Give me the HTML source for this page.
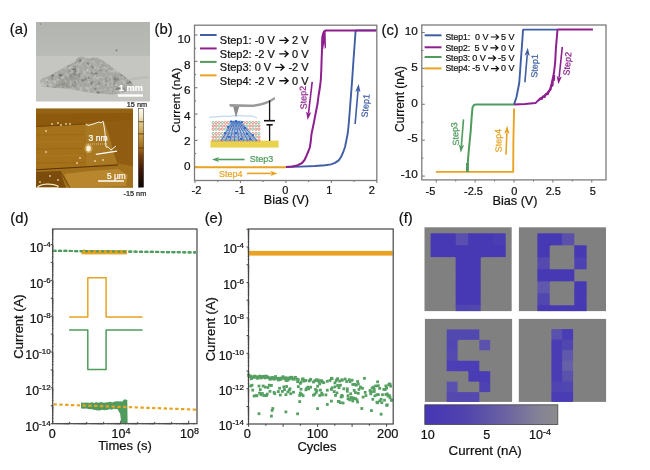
<!DOCTYPE html>
<html><head><meta charset="utf-8"><style>
html,body{margin:0;padding:0;background:#fff;}
svg{display:block;filter:blur(0.3px);}
text{font-family:"Liberation Sans", sans-serif;}
</style></head><body>
<svg width="650" height="470" viewBox="0 0 650 470">
<rect width="650" height="470" fill="#fff"/>
<text x="9.80" y="34.20" font-size="14.8" text-anchor="start" fill="#111" stroke="#111" stroke-width="0.22">(a)</text>
<text x="154.60" y="34.40" font-size="14.8" text-anchor="start" fill="#111" stroke="#111" stroke-width="0.22">(b)</text>
<text x="381.50" y="34.50" font-size="14.8" text-anchor="start" fill="#111" stroke="#111" stroke-width="0.22">(c)</text>
<text x="10.30" y="222.60" font-size="14.8" text-anchor="start" fill="#111" stroke="#111" stroke-width="0.22">(d)</text>
<text x="204.70" y="222.70" font-size="14.8" text-anchor="start" fill="#111" stroke="#111" stroke-width="0.22">(e)</text>
<text x="398.80" y="222.60" font-size="14.8" text-anchor="start" fill="#111" stroke="#111" stroke-width="0.22">(f)</text>
<defs><filter id="semtex" x="0" y="0" width="100%" height="100%"><feTurbulence type="fractalNoise" baseFrequency="0.22" numOctaves="3" seed="5" result="n"/><feColorMatrix in="n" type="matrix" values="0 0 0 0 0  0 0 0 0 0  0 0 0 0 0  -1.1 0 0 0 0.5" result="dk0"/><feGaussianBlur in="dk0" stdDeviation="0.7" result="dk"/><feComposite in="dk" in2="SourceGraphic" operator="in"/></filter><filter id="semtex2" x="0" y="0" width="100%" height="100%"><feTurbulence type="fractalNoise" baseFrequency="0.3" numOctaves="2" seed="9" result="n"/><feColorMatrix in="n" type="matrix" values="0 0 0 0 1  0 0 0 0 1  0 0 0 0 1  0.9 0 0 0 -0.42" result="lt0"/><feGaussianBlur in="lt0" stdDeviation="0.6" result="lt"/><feComposite in="lt" in2="SourceGraphic" operator="in"/></filter><linearGradient id="semtop" x1="0" y1="0" x2="0" y2="1"><stop offset="0" stop-color="#b3b5b0"/><stop offset="0.5" stop-color="#b6b8b3"/><stop offset="1" stop-color="#babcb7"/></linearGradient><linearGradient id="afmcb" x1="0" y1="0" x2="0" y2="1"><stop offset="0" stop-color="#fbf8ee"/><stop offset="0.1" stop-color="#f2e8cc"/><stop offset="0.17" stop-color="#e2cc90"/><stop offset="0.33" stop-color="#c89a40"/><stop offset="0.5" stop-color="#a46a14"/><stop offset="0.6" stop-color="#7a3e0a"/><stop offset="0.78" stop-color="#3e1806"/><stop offset="1" stop-color="#0c0603"/></linearGradient><linearGradient id="fcb" x1="0" y1="0" x2="1" y2="0"><stop offset="0" stop-color="#4636b4"/><stop offset="0.3" stop-color="#5043ae"/><stop offset="0.6" stop-color="#6a62a2"/><stop offset="0.85" stop-color="#838196"/><stop offset="1" stop-color="#8c8c8c"/></linearGradient><clipPath id="afmclip"><rect x="36" y="108.5" width="97" height="79.2"/></clipPath></defs>
<rect x="36.00" y="22.00" width="114.00" height="35.00" fill="url(#semtop)"/>
<rect x="36.00" y="56.00" width="114.00" height="45.50" fill="#c5c6c1"/>
<circle cx="116.5" cy="50.3" r="0.9" fill="#707070"/><circle cx="40.5" cy="24" r="0.7" fill="#808080"/>
<path d="M39.8,81.5 L42.2,78.5 L48.3,76.2 L54.5,73 L62.2,68.5 L69.8,64.6 L76,60.8 L77.5,57.7 L80,56.8 L82.2,56.5 L86,58 L89.8,58.5 L93.5,57.2 L97.5,57.7 L102,60 L109.8,65.4 L117.5,71.5 L125.2,77 L129.8,80 L133,83.8 L131.4,89.2 L122,93 L112.9,94.6 L100.6,93.8 L86.8,92.3 L74.5,90 L66.8,88.5 L51.4,87.7 L42.2,86.2 Z" fill="#a7a8a3"/>
<path d="M58,84 C62,78 68,74 74,73 C78,75 80,80 78,86 C72,89 64,89 58,87 Z" fill="#8f908b" opacity="0.55"/>
<path d="M40,83 C42,79 46,78 50,79 C52,82 51,86 47,87 C44,87 41,86 40,83 Z" fill="#b6b7b2" opacity="0.6"/>
<path d="M39.8,81.5 L42.2,78.5 L48.3,76.2 L54.5,73 L62.2,68.5 L69.8,64.6 L76,60.8 L77.5,57.7 L80,56.8 L82.2,56.5 L86,58 L89.8,58.5 L93.5,57.2 L97.5,57.7 L102,60 L109.8,65.4 L117.5,71.5 L125.2,77 L129.8,80 L133,83.8 L131.4,89.2 L122,93 L112.9,94.6 L100.6,93.8 L86.8,92.3 L74.5,90 L66.8,88.5 L51.4,87.7 L42.2,86.2 Z" fill="#6f706b" filter="url(#semtex)"/>
<path d="M39.8,81.5 L42.2,78.5 L48.3,76.2 L54.5,73 L62.2,68.5 L69.8,64.6 L76,60.8 L77.5,57.7 L80,56.8 L82.2,56.5 L86,58 L89.8,58.5 L93.5,57.2 L97.5,57.7 L102,60 L109.8,65.4 L117.5,71.5 L125.2,77 L129.8,80 L133,83.8 L131.4,89.2 L122,93 L112.9,94.6 L100.6,93.8 L86.8,92.3 L74.5,90 L66.8,88.5 L51.4,87.7 L42.2,86.2 Z" fill="#fff" filter="url(#semtex2)"/>
<path d="M128,79 C135,77 142,76 149,76.5 L149,78.5 C142,78.5 136,79.5 130,81 Z" fill="#bbbcb7"/>
<text x="118.80" y="91.00" font-size="9.2" text-anchor="start" fill="#ffffff" font-weight="bold" stroke="#ffffff" stroke-width="0.22">1 mm</text>
<rect x="118.00" y="94.30" width="25.00" height="2.40" fill="#ffffff"/>
<text x="126.80" y="106.60" font-size="7.3" text-anchor="start" fill="#222" stroke="#222" stroke-width="0.22">15 nm</text>
<g clip-path="url(#afmclip)">
<rect x="36.00" y="108.50" width="97.00" height="79.20" fill="#935e12"/>
<path d="M36,108.5 L133,108.5 L133,120 L105,122 L85,124 L36,126.5 Z" fill="#8c590d"/>
<path d="M36,108.5 L133,108.5 L133,113 L36,114 Z" fill="#966414" opacity="0.8"/>
<path d="M36,126.5 L85,124 L86,166.5 L36,169.5 Z" fill="#a5711a"/>
<line x1="36.00" y1="135.00" x2="84.00" y2="134.50" stroke="#9c6814" stroke-width="1.2"/>
<line x1="36.00" y1="142.00" x2="84.00" y2="141.50" stroke="#ad7a22" stroke-width="1.2"/>
<line x1="36.00" y1="149.00" x2="84.00" y2="148.50" stroke="#9c6814" stroke-width="1.2"/>
<line x1="36.00" y1="156.00" x2="84.00" y2="155.50" stroke="#ad7a22" stroke-width="1.2"/>
<line x1="36.00" y1="163.00" x2="84.00" y2="162.50" stroke="#9c6814" stroke-width="1.2"/>
<path d="M85,124 L105,122 L110,138 L113,150 L117.5,163.5 L86,166.5 Z" fill="#a97822"/>
<path d="M105,122 L133,120 L133,166 L117.5,163.5 L113,150 L110,138 Z" fill="#8f5c12"/>
<path d="M36,169.5 L86,166.5 L117.5,163.5 L133,166 L133,187.7 L36,187.7 Z" fill="#a0701c"/>
<path d="M64,174 L90,171 L118,169 L128,175 L126,186 L70,187.7 Z" fill="#ba8a30" opacity="0.9"/>
<path d="M36,172 L60,171 L66,187.7 L36,187.7 Z" fill="#7c4c0c"/>
<line x1="36.00" y1="169.80" x2="118.00" y2="165.00" stroke="#5e3308" stroke-width="1.1"/>
<line x1="36.00" y1="126.50" x2="85.00" y2="124.00" stroke="#74460a" stroke-width="1.2"/>
<line x1="60.00" y1="171.00" x2="70.00" y2="187.70" stroke="#6a3a0a" stroke-width="0.8"/>
<path d="M37,187.7 C40,183.5 52,183 58,186 L58,187.7 Z" fill="none" stroke="#f4e6c8" stroke-width="1.2"/>
<ellipse cx="88.5" cy="148.5" rx="4.2" ry="4.8" fill="#e0bc70" opacity="0.5"/>
<ellipse cx="88.5" cy="148.5" rx="2.3" ry="3" fill="#fbf3dc"/>
<circle cx="52" cy="124" r="0.9" fill="#f5e4c0" opacity="0.85"/>
<circle cx="58" cy="123" r="0.9" fill="#f5e4c0" opacity="0.85"/>
<circle cx="61" cy="125" r="0.9" fill="#f5e4c0" opacity="0.85"/>
<circle cx="66" cy="124" r="0.9" fill="#f5e4c0" opacity="0.85"/>
<circle cx="70" cy="124" r="0.9" fill="#f5e4c0" opacity="0.85"/>
<circle cx="46" cy="131" r="0.9" fill="#f5e4c0" opacity="0.85"/>
<circle cx="80" cy="158" r="0.9" fill="#f5e4c0" opacity="0.85"/>
<circle cx="77" cy="163" r="0.9" fill="#f5e4c0" opacity="0.85"/>
<circle cx="95" cy="161" r="0.9" fill="#f5e4c0" opacity="0.85"/>
<circle cx="103" cy="160" r="0.9" fill="#f5e4c0" opacity="0.85"/>
<circle cx="46" cy="152" r="0.9" fill="#f5e4c0" opacity="0.85"/>
<circle cx="50" cy="176" r="0.9" fill="#f5e4c0" opacity="0.85"/>
<circle cx="58" cy="180" r="0.9" fill="#f5e4c0" opacity="0.85"/>
<circle cx="40" cy="182" r="0.9" fill="#f5e4c0" opacity="0.85"/>
</g>
<text x="88.60" y="141.00" font-size="8.6" text-anchor="start" fill="#ffffff" stroke="#ffffff" stroke-width="0.22">3 nm</text>
<line x1="95.80" y1="154.40" x2="117.00" y2="151.20" stroke="#ffffff" stroke-width="1.3"/>
<polyline points="86.00,124.00 88.00,125.50 92.00,124.50 96.00,123.00 99.00,122.00 101.00,123.00 103.00,121.00 104.00,126.00 105.00,133.00 106.00,147.00 108.00,147.00 111.00,150.00 116.00,146.00" fill="none" stroke="#ffffff" stroke-width="0.9" stroke-linejoin="round" stroke-linecap="butt"/>
<line x1="86.00" y1="144.00" x2="108.00" y2="144.00" stroke="#ffffff" stroke-width="0.5" stroke-dasharray="1,1"/>
<text x="107.00" y="178.70" font-size="8.3" text-anchor="start" fill="#ffffff" stroke="#ffffff" stroke-width="0.22">5 μm</text>
<line x1="98.00" y1="181.00" x2="124.00" y2="181.00" stroke="#ffffff" stroke-width="1.5"/>
<rect x="138.40" y="108.70" width="5.20" height="78.50" fill="url(#afmcb)" stroke="#222" stroke-width="0.5"/>
<line x1="138.40" y1="121.80" x2="143.60" y2="121.80" stroke="#5a3a08" stroke-width="0.9"/>
<line x1="138.40" y1="133.90" x2="143.60" y2="133.90" stroke="#5a3a08" stroke-width="0.9"/>
<line x1="138.40" y1="148.00" x2="143.60" y2="148.00" stroke="#5a3a08" stroke-width="0.9"/>
<text x="123.50" y="196.00" font-size="7.3" text-anchor="start" fill="#222" stroke="#222" stroke-width="0.22">-15 nm</text>
<line x1="194.50" y1="166.80" x2="197.50" y2="166.80" stroke="#7c7c7c" stroke-width="1.1"/>
<line x1="194.50" y1="153.62" x2="196.10" y2="153.62" stroke="#7c7c7c" stroke-width="1.1"/>
<line x1="194.50" y1="140.44" x2="197.50" y2="140.44" stroke="#7c7c7c" stroke-width="1.1"/>
<line x1="194.50" y1="127.26" x2="196.10" y2="127.26" stroke="#7c7c7c" stroke-width="1.1"/>
<line x1="194.50" y1="114.08" x2="197.50" y2="114.08" stroke="#7c7c7c" stroke-width="1.1"/>
<line x1="194.50" y1="100.90" x2="196.10" y2="100.90" stroke="#7c7c7c" stroke-width="1.1"/>
<line x1="194.50" y1="87.72" x2="197.50" y2="87.72" stroke="#7c7c7c" stroke-width="1.1"/>
<line x1="194.50" y1="74.54" x2="196.10" y2="74.54" stroke="#7c7c7c" stroke-width="1.1"/>
<line x1="194.50" y1="61.36" x2="197.50" y2="61.36" stroke="#7c7c7c" stroke-width="1.1"/>
<line x1="194.50" y1="48.18" x2="196.10" y2="48.18" stroke="#7c7c7c" stroke-width="1.1"/>
<line x1="194.50" y1="35.00" x2="197.50" y2="35.00" stroke="#7c7c7c" stroke-width="1.1"/>
<text x="190.60" y="170.20" font-size="11.8" text-anchor="end" fill="#111" stroke="#111" stroke-width="0.22">0</text>
<text x="190.60" y="145.10" font-size="11.8" text-anchor="end" fill="#111" stroke="#111" stroke-width="0.22">2</text>
<text x="190.60" y="120.30" font-size="11.8" text-anchor="end" fill="#111" stroke="#111" stroke-width="0.22">4</text>
<text x="190.60" y="94.30" font-size="11.8" text-anchor="end" fill="#111" stroke="#111" stroke-width="0.22">6</text>
<text x="190.60" y="69.10" font-size="11.8" text-anchor="end" fill="#111" stroke="#111" stroke-width="0.22">8</text>
<text x="190.60" y="42.60" font-size="11.8" text-anchor="end" fill="#111" stroke="#111" stroke-width="0.22">10</text>
<line x1="195.00" y1="180.50" x2="195.00" y2="183.00" stroke="#7c7c7c" stroke-width="1.1"/>
<line x1="217.72" y1="180.50" x2="217.72" y2="182.10" stroke="#7c7c7c" stroke-width="1.1"/>
<line x1="240.45" y1="180.50" x2="240.45" y2="183.00" stroke="#7c7c7c" stroke-width="1.1"/>
<line x1="263.17" y1="180.50" x2="263.17" y2="182.10" stroke="#7c7c7c" stroke-width="1.1"/>
<line x1="285.90" y1="180.50" x2="285.90" y2="183.00" stroke="#7c7c7c" stroke-width="1.1"/>
<line x1="308.62" y1="180.50" x2="308.62" y2="182.10" stroke="#7c7c7c" stroke-width="1.1"/>
<line x1="331.35" y1="180.50" x2="331.35" y2="183.00" stroke="#7c7c7c" stroke-width="1.1"/>
<line x1="354.07" y1="180.50" x2="354.07" y2="182.10" stroke="#7c7c7c" stroke-width="1.1"/>
<line x1="376.80" y1="180.50" x2="376.80" y2="183.00" stroke="#7c7c7c" stroke-width="1.1"/>
<text x="196.50" y="194.00" font-size="11" text-anchor="middle" fill="#111" stroke="#111" stroke-width="0.22">-2</text>
<text x="240.00" y="194.00" font-size="11" text-anchor="middle" fill="#111" stroke="#111" stroke-width="0.22">-1</text>
<text x="285.30" y="194.00" font-size="11" text-anchor="middle" fill="#111" stroke="#111" stroke-width="0.22">0</text>
<text x="329.20" y="194.00" font-size="11" text-anchor="middle" fill="#111" stroke="#111" stroke-width="0.22">1</text>
<text x="371.80" y="194.00" font-size="11" text-anchor="middle" fill="#111" stroke="#111" stroke-width="0.22">2</text>
<text x="286.40" y="203.60" font-size="12.7" text-anchor="middle" fill="#111" stroke="#111" stroke-width="0.22">Bias (V)</text>
<text transform="translate(180.40,100.30) rotate(-90)" font-size="11.8" text-anchor="middle" fill="#111" stroke="#111" stroke-width="0.22">Current (nA)</text>
<polyline points="194.60,167.20 286.00,167.20" fill="none" stroke="#e8a322" stroke-width="2" stroke-linejoin="round" stroke-linecap="butt"/>
<polyline points="286.00,167.00 300.00,166.60 315.00,166.00 325.00,165.20 331.00,164.40 335.00,162.90 338.70,160.40 341.00,157.00 343.00,152.70 345.00,147.00 346.30,140.80 347.80,133.00 348.90,122.00 350.60,100.00 352.00,82.00 353.50,60.00 355.60,31.00 355.80,30.40 376.80,30.40" fill="none" stroke="#3f5ea3" stroke-width="1.9" stroke-linejoin="round" stroke-linecap="butt"/>
<polyline points="286.00,167.00 292.00,166.60 297.00,165.60 302.00,163.00 304.50,160.00 306.40,156.00 308.50,151.00 309.80,147.60 310.80,141.00 311.50,134.00 314.00,122.00 316.30,110.00 317.50,104.00 318.50,96.00 319.80,88.00 320.80,80.00 321.30,70.00 321.60,60.00 322.00,50.00 322.30,40.00 323.00,34.00 324.50,31.00 326.00,30.40 376.20,30.40" fill="none" stroke="#8e1f8f" stroke-width="2" stroke-linejoin="round" stroke-linecap="butt"/>
<path d="M321.3,45 L321.6,36 L323.2,31.6 L325.6,30.5 L326,47.5 L324.8,49 L324.2,43 L323,50 Z" fill="#8e1f8f"/>
<line x1="200.00" y1="35.00" x2="216.60" y2="35.00" stroke="#3f5ea3" stroke-width="2"/>
<text x="219.80" y="44.40" font-size="11" text-anchor="start" fill="#111" stroke="#111" stroke-width="0.22">Step1: -0 V</text>
<text x="308.60" y="44.40" font-size="11" text-anchor="end" fill="#111" stroke="#111" stroke-width="0.22">2 V</text>
<path d="M279.30,40.40 H287.50 M284.58,37.20 L288.10,40.40 L284.58,43.60" fill="none" stroke="#111" stroke-width="1.35" stroke-linejoin="miter"/>
<line x1="200.00" y1="48.45" x2="216.60" y2="48.45" stroke="#8e1f8f" stroke-width="2"/>
<text x="219.80" y="57.85" font-size="11" text-anchor="start" fill="#111" stroke="#111" stroke-width="0.22">Step2: -2 V</text>
<text x="308.60" y="57.85" font-size="11" text-anchor="end" fill="#111" stroke="#111" stroke-width="0.22">0 V</text>
<path d="M279.30,53.85 H287.50 M284.58,50.65 L288.10,53.85 L284.58,57.05" fill="none" stroke="#111" stroke-width="1.35" stroke-linejoin="miter"/>
<line x1="200.00" y1="61.90" x2="216.60" y2="61.90" stroke="#4f9b5d" stroke-width="2"/>
<text x="219.80" y="71.30" font-size="11" text-anchor="start" fill="#111" stroke="#111" stroke-width="0.22">Step3: 0 V</text>
<text x="308.60" y="71.30" font-size="11" text-anchor="end" fill="#111" stroke="#111" stroke-width="0.22">-2 V</text>
<path d="M275.20,67.30 H283.40 M280.48,64.10 L284.00,67.30 L280.48,70.50" fill="none" stroke="#111" stroke-width="1.35" stroke-linejoin="miter"/>
<line x1="200.00" y1="75.35" x2="216.60" y2="75.35" stroke="#e8a322" stroke-width="2"/>
<text x="219.80" y="84.75" font-size="11" text-anchor="start" fill="#111" stroke="#111" stroke-width="0.22">Step4: -2 V</text>
<text x="308.60" y="84.75" font-size="11" text-anchor="end" fill="#111" stroke="#111" stroke-width="0.22">0 V</text>
<path d="M279.30,80.75 H287.50 M284.58,77.55 L288.10,80.75 L284.58,83.95" fill="none" stroke="#111" stroke-width="1.35" stroke-linejoin="miter"/>
<g>
<rect x="210.40" y="140.60" width="68.20" height="7.00" fill="#e8d24e"/>
<circle cx="213.2" cy="122.6" r="1.15" fill="none" stroke="#5caa78" stroke-width="0.75" opacity="0.9"/>
<circle cx="216.2" cy="122.6" r="1.15" fill="none" stroke="#d0604f" stroke-width="0.75" opacity="0.9"/>
<circle cx="219.3" cy="122.6" r="1.15" fill="none" stroke="#d0604f" stroke-width="0.75" opacity="0.9"/>
<circle cx="222.3" cy="122.6" r="1.15" fill="none" stroke="#5caa78" stroke-width="0.75" opacity="0.9"/>
<circle cx="225.4" cy="122.6" r="1.15" fill="none" stroke="#d0604f" stroke-width="0.75" opacity="0.9"/>
<circle cx="228.4" cy="122.6" r="1.15" fill="none" stroke="#d0604f" stroke-width="0.75" opacity="0.9"/>
<circle cx="231.5" cy="122.6" r="1.15" fill="none" stroke="#5caa78" stroke-width="0.75" opacity="0.9"/>
<circle cx="234.5" cy="122.6" r="1.15" fill="none" stroke="#d0604f" stroke-width="0.75" opacity="0.9"/>
<circle cx="237.6" cy="122.6" r="1.15" fill="none" stroke="#d0604f" stroke-width="0.75" opacity="0.9"/>
<circle cx="240.6" cy="122.6" r="1.15" fill="none" stroke="#5caa78" stroke-width="0.75" opacity="0.9"/>
<circle cx="243.7" cy="122.6" r="1.15" fill="none" stroke="#d0604f" stroke-width="0.75" opacity="0.9"/>
<circle cx="246.8" cy="122.6" r="1.15" fill="none" stroke="#d0604f" stroke-width="0.75" opacity="0.9"/>
<circle cx="249.8" cy="122.6" r="1.15" fill="none" stroke="#5caa78" stroke-width="0.75" opacity="0.9"/>
<circle cx="252.8" cy="122.6" r="1.15" fill="none" stroke="#d0604f" stroke-width="0.75" opacity="0.9"/>
<circle cx="255.9" cy="122.6" r="1.15" fill="none" stroke="#d0604f" stroke-width="0.75" opacity="0.9"/>
<circle cx="258.9" cy="122.6" r="1.15" fill="none" stroke="#5caa78" stroke-width="0.75" opacity="0.9"/>
<circle cx="213.2" cy="125.9" r="1.15" fill="none" stroke="#d0604f" stroke-width="0.75" opacity="0.9"/>
<circle cx="216.2" cy="125.9" r="1.15" fill="none" stroke="#d0604f" stroke-width="0.75" opacity="0.9"/>
<circle cx="219.3" cy="125.9" r="1.15" fill="none" stroke="#5caa78" stroke-width="0.75" opacity="0.9"/>
<circle cx="222.3" cy="125.9" r="1.15" fill="none" stroke="#d0604f" stroke-width="0.75" opacity="0.9"/>
<circle cx="225.4" cy="125.9" r="1.15" fill="none" stroke="#d0604f" stroke-width="0.75" opacity="0.9"/>
<circle cx="228.4" cy="125.9" r="1.15" fill="none" stroke="#5caa78" stroke-width="0.75" opacity="0.9"/>
<circle cx="231.5" cy="125.9" r="1.15" fill="none" stroke="#d0604f" stroke-width="0.75" opacity="0.9"/>
<circle cx="234.5" cy="125.9" r="1.15" fill="none" stroke="#d0604f" stroke-width="0.75" opacity="0.9"/>
<circle cx="237.6" cy="125.9" r="1.15" fill="none" stroke="#5caa78" stroke-width="0.75" opacity="0.9"/>
<circle cx="240.6" cy="125.9" r="1.15" fill="none" stroke="#d0604f" stroke-width="0.75" opacity="0.9"/>
<circle cx="243.7" cy="125.9" r="1.15" fill="none" stroke="#d0604f" stroke-width="0.75" opacity="0.9"/>
<circle cx="246.8" cy="125.9" r="1.15" fill="none" stroke="#5caa78" stroke-width="0.75" opacity="0.9"/>
<circle cx="249.8" cy="125.9" r="1.15" fill="none" stroke="#d0604f" stroke-width="0.75" opacity="0.9"/>
<circle cx="252.8" cy="125.9" r="1.15" fill="none" stroke="#d0604f" stroke-width="0.75" opacity="0.9"/>
<circle cx="255.9" cy="125.9" r="1.15" fill="none" stroke="#5caa78" stroke-width="0.75" opacity="0.9"/>
<circle cx="258.9" cy="125.9" r="1.15" fill="none" stroke="#d0604f" stroke-width="0.75" opacity="0.9"/>
<circle cx="213.2" cy="129.2" r="1.15" fill="none" stroke="#d0604f" stroke-width="0.75" opacity="0.9"/>
<circle cx="216.2" cy="129.2" r="1.15" fill="none" stroke="#5caa78" stroke-width="0.75" opacity="0.9"/>
<circle cx="219.3" cy="129.2" r="1.15" fill="none" stroke="#d0604f" stroke-width="0.75" opacity="0.9"/>
<circle cx="222.3" cy="129.2" r="1.15" fill="none" stroke="#d0604f" stroke-width="0.75" opacity="0.9"/>
<circle cx="225.4" cy="129.2" r="1.15" fill="none" stroke="#5caa78" stroke-width="0.75" opacity="0.9"/>
<circle cx="228.4" cy="129.2" r="1.15" fill="none" stroke="#d0604f" stroke-width="0.75" opacity="0.9"/>
<circle cx="231.5" cy="129.2" r="1.15" fill="none" stroke="#d0604f" stroke-width="0.75" opacity="0.9"/>
<circle cx="234.5" cy="129.2" r="1.15" fill="none" stroke="#5caa78" stroke-width="0.75" opacity="0.9"/>
<circle cx="237.6" cy="129.2" r="1.15" fill="none" stroke="#d0604f" stroke-width="0.75" opacity="0.9"/>
<circle cx="240.6" cy="129.2" r="1.15" fill="none" stroke="#d0604f" stroke-width="0.75" opacity="0.9"/>
<circle cx="243.7" cy="129.2" r="1.15" fill="none" stroke="#5caa78" stroke-width="0.75" opacity="0.9"/>
<circle cx="246.8" cy="129.2" r="1.15" fill="none" stroke="#d0604f" stroke-width="0.75" opacity="0.9"/>
<circle cx="249.8" cy="129.2" r="1.15" fill="none" stroke="#d0604f" stroke-width="0.75" opacity="0.9"/>
<circle cx="252.8" cy="129.2" r="1.15" fill="none" stroke="#5caa78" stroke-width="0.75" opacity="0.9"/>
<circle cx="255.9" cy="129.2" r="1.15" fill="none" stroke="#d0604f" stroke-width="0.75" opacity="0.9"/>
<circle cx="258.9" cy="129.2" r="1.15" fill="none" stroke="#d0604f" stroke-width="0.75" opacity="0.9"/>
<circle cx="213.2" cy="133.6" r="1.15" fill="none" stroke="#5caa78" stroke-width="0.75" opacity="0.9"/>
<circle cx="216.2" cy="133.6" r="1.15" fill="none" stroke="#d0604f" stroke-width="0.75" opacity="0.9"/>
<circle cx="219.3" cy="133.6" r="1.15" fill="none" stroke="#d0604f" stroke-width="0.75" opacity="0.9"/>
<circle cx="222.3" cy="133.6" r="1.15" fill="none" stroke="#5caa78" stroke-width="0.75" opacity="0.9"/>
<circle cx="225.4" cy="133.6" r="1.15" fill="none" stroke="#d0604f" stroke-width="0.75" opacity="0.9"/>
<circle cx="228.4" cy="133.6" r="1.15" fill="none" stroke="#d0604f" stroke-width="0.75" opacity="0.9"/>
<circle cx="231.5" cy="133.6" r="1.15" fill="none" stroke="#5caa78" stroke-width="0.75" opacity="0.9"/>
<circle cx="234.5" cy="133.6" r="1.15" fill="none" stroke="#d0604f" stroke-width="0.75" opacity="0.9"/>
<circle cx="237.6" cy="133.6" r="1.15" fill="none" stroke="#d0604f" stroke-width="0.75" opacity="0.9"/>
<circle cx="240.6" cy="133.6" r="1.15" fill="none" stroke="#5caa78" stroke-width="0.75" opacity="0.9"/>
<circle cx="243.7" cy="133.6" r="1.15" fill="none" stroke="#d0604f" stroke-width="0.75" opacity="0.9"/>
<circle cx="246.8" cy="133.6" r="1.15" fill="none" stroke="#d0604f" stroke-width="0.75" opacity="0.9"/>
<circle cx="249.8" cy="133.6" r="1.15" fill="none" stroke="#5caa78" stroke-width="0.75" opacity="0.9"/>
<circle cx="252.8" cy="133.6" r="1.15" fill="none" stroke="#d0604f" stroke-width="0.75" opacity="0.9"/>
<circle cx="255.9" cy="133.6" r="1.15" fill="none" stroke="#d0604f" stroke-width="0.75" opacity="0.9"/>
<circle cx="258.9" cy="133.6" r="1.15" fill="none" stroke="#5caa78" stroke-width="0.75" opacity="0.9"/>
<circle cx="213.2" cy="136.9" r="1.15" fill="none" stroke="#d0604f" stroke-width="0.75" opacity="0.9"/>
<circle cx="216.2" cy="136.9" r="1.15" fill="none" stroke="#d0604f" stroke-width="0.75" opacity="0.9"/>
<circle cx="219.3" cy="136.9" r="1.15" fill="none" stroke="#5caa78" stroke-width="0.75" opacity="0.9"/>
<circle cx="222.3" cy="136.9" r="1.15" fill="none" stroke="#d0604f" stroke-width="0.75" opacity="0.9"/>
<circle cx="225.4" cy="136.9" r="1.15" fill="none" stroke="#d0604f" stroke-width="0.75" opacity="0.9"/>
<circle cx="228.4" cy="136.9" r="1.15" fill="none" stroke="#5caa78" stroke-width="0.75" opacity="0.9"/>
<circle cx="231.5" cy="136.9" r="1.15" fill="none" stroke="#d0604f" stroke-width="0.75" opacity="0.9"/>
<circle cx="234.5" cy="136.9" r="1.15" fill="none" stroke="#d0604f" stroke-width="0.75" opacity="0.9"/>
<circle cx="237.6" cy="136.9" r="1.15" fill="none" stroke="#5caa78" stroke-width="0.75" opacity="0.9"/>
<circle cx="240.6" cy="136.9" r="1.15" fill="none" stroke="#d0604f" stroke-width="0.75" opacity="0.9"/>
<circle cx="243.7" cy="136.9" r="1.15" fill="none" stroke="#d0604f" stroke-width="0.75" opacity="0.9"/>
<circle cx="246.8" cy="136.9" r="1.15" fill="none" stroke="#5caa78" stroke-width="0.75" opacity="0.9"/>
<circle cx="249.8" cy="136.9" r="1.15" fill="none" stroke="#d0604f" stroke-width="0.75" opacity="0.9"/>
<circle cx="252.8" cy="136.9" r="1.15" fill="none" stroke="#d0604f" stroke-width="0.75" opacity="0.9"/>
<circle cx="255.9" cy="136.9" r="1.15" fill="none" stroke="#5caa78" stroke-width="0.75" opacity="0.9"/>
<circle cx="258.9" cy="136.9" r="1.15" fill="none" stroke="#d0604f" stroke-width="0.75" opacity="0.9"/>
<circle cx="213.2" cy="140.2" r="1.15" fill="none" stroke="#d0604f" stroke-width="0.75" opacity="0.9"/>
<circle cx="216.2" cy="140.2" r="1.15" fill="none" stroke="#5caa78" stroke-width="0.75" opacity="0.9"/>
<circle cx="219.3" cy="140.2" r="1.15" fill="none" stroke="#d0604f" stroke-width="0.75" opacity="0.9"/>
<circle cx="222.3" cy="140.2" r="1.15" fill="none" stroke="#d0604f" stroke-width="0.75" opacity="0.9"/>
<circle cx="225.4" cy="140.2" r="1.15" fill="none" stroke="#5caa78" stroke-width="0.75" opacity="0.9"/>
<circle cx="228.4" cy="140.2" r="1.15" fill="none" stroke="#d0604f" stroke-width="0.75" opacity="0.9"/>
<circle cx="231.5" cy="140.2" r="1.15" fill="none" stroke="#d0604f" stroke-width="0.75" opacity="0.9"/>
<circle cx="234.5" cy="140.2" r="1.15" fill="none" stroke="#5caa78" stroke-width="0.75" opacity="0.9"/>
<circle cx="237.6" cy="140.2" r="1.15" fill="none" stroke="#d0604f" stroke-width="0.75" opacity="0.9"/>
<circle cx="240.6" cy="140.2" r="1.15" fill="none" stroke="#d0604f" stroke-width="0.75" opacity="0.9"/>
<circle cx="243.7" cy="140.2" r="1.15" fill="none" stroke="#5caa78" stroke-width="0.75" opacity="0.9"/>
<circle cx="246.8" cy="140.2" r="1.15" fill="none" stroke="#d0604f" stroke-width="0.75" opacity="0.9"/>
<circle cx="249.8" cy="140.2" r="1.15" fill="none" stroke="#d0604f" stroke-width="0.75" opacity="0.9"/>
<circle cx="252.8" cy="140.2" r="1.15" fill="none" stroke="#5caa78" stroke-width="0.75" opacity="0.9"/>
<circle cx="255.9" cy="140.2" r="1.15" fill="none" stroke="#d0604f" stroke-width="0.75" opacity="0.9"/>
<circle cx="258.9" cy="140.2" r="1.15" fill="none" stroke="#d0604f" stroke-width="0.75" opacity="0.9"/>
<path d="M231,120.5 L241,120.5 L258,141 L220,141 Z" fill="#5a8fd8" opacity="0.45"/>
<line x1="233.00" y1="121.00" x2="221.00" y2="141.00" stroke="#2f6bc4" stroke-width="0.8"/>
<line x1="233.75" y1="121.00" x2="225.50" y2="141.00" stroke="#2f6bc4" stroke-width="0.8"/>
<line x1="234.50" y1="121.00" x2="230.00" y2="141.00" stroke="#2f6bc4" stroke-width="0.8"/>
<line x1="235.25" y1="121.00" x2="234.50" y2="141.00" stroke="#2f6bc4" stroke-width="0.8"/>
<line x1="236.00" y1="121.00" x2="239.00" y2="141.00" stroke="#2f6bc4" stroke-width="0.8"/>
<line x1="236.75" y1="121.00" x2="243.50" y2="141.00" stroke="#2f6bc4" stroke-width="0.8"/>
<line x1="237.50" y1="121.00" x2="248.00" y2="141.00" stroke="#2f6bc4" stroke-width="0.8"/>
<line x1="238.25" y1="121.00" x2="252.50" y2="141.00" stroke="#2f6bc4" stroke-width="0.8"/>
<line x1="239.00" y1="121.00" x2="257.00" y2="141.00" stroke="#2f6bc4" stroke-width="0.8"/>
<circle cx="231" cy="121.5" r="1.1" fill="#1f5fc8"/>
<circle cx="236" cy="121" r="1.1" fill="#1f5fc8"/>
<circle cx="242" cy="122" r="1.1" fill="#1f5fc8"/>
<circle cx="228" cy="127" r="1.1" fill="#1f5fc8"/>
<circle cx="245" cy="128" r="1.1" fill="#1f5fc8"/>
<circle cx="225" cy="133" r="1.1" fill="#1f5fc8"/>
<circle cx="236" cy="133" r="1.1" fill="#1f5fc8"/>
<circle cx="247" cy="134" r="1.1" fill="#1f5fc8"/>
<circle cx="253" cy="135" r="1.1" fill="#1f5fc8"/>
<circle cx="229" cy="137" r="1.1" fill="#1f5fc8"/>
<circle cx="241" cy="139" r="1.1" fill="#1f5fc8"/>
<circle cx="250" cy="139" r="1.1" fill="#1f5fc8"/>
<path d="M209,117.5 C213,116 216,117.5 220,116.5 C224,115.5 228,117 232,116 C238,115 244,116.5 250,116 C253,116 255,117 257,118" fill="none" stroke="#aac8ec" stroke-width="0.9"/>
<path d="M229.4,104.0 L250,104.6 C260,104.3 268,101.3 274.7,97.0 L275.2,99.2 C268,104 260,106.9 250,107.1 L229.8,106.7 Z" fill="#9a9a9a"/>
<path d="M233.2,106.5 L239.2,106.5 L236,117.8 Z" fill="#8a8a8a"/>
<line x1="269.60" y1="100.50" x2="269.60" y2="120.50" stroke="#111" stroke-width="1.3"/>
<line x1="264.00" y1="120.70" x2="275.00" y2="120.70" stroke="#111" stroke-width="1.6"/>
<line x1="266.50" y1="124.80" x2="272.70" y2="124.80" stroke="#111" stroke-width="1.6"/>
<line x1="269.60" y1="124.80" x2="269.60" y2="141.00" stroke="#111" stroke-width="1.3"/>
</g>
<line x1="244.60" y1="159.50" x2="218.00" y2="159.50" stroke="#4f9b5d" stroke-width="1.6"/>
<polygon points="212.00,159.50 219.00,156.90 217.50,159.50 219.00,162.10" fill="#4f9b5d"/>
<text x="249.70" y="162.20" font-size="9" text-anchor="start" fill="#4f9b5d" stroke="#4f9b5d" stroke-width="0.22">Step3</text>
<line x1="247.00" y1="173.40" x2="271.50" y2="173.40" stroke="#e8a322" stroke-width="1.6"/>
<polygon points="277.50,173.40 270.50,176.00 272.00,173.40 270.50,170.80" fill="#e8a322"/>
<text x="219.00" y="176.60" font-size="9" text-anchor="start" fill="#e8a322" stroke="#e8a322" stroke-width="0.22">Step4</text>
<line x1="312.20" y1="81.80" x2="308.52" y2="113.05" stroke="#8e1f8f" stroke-width="1.6"/>
<polygon points="307.70,120.00 306.05,111.75 308.46,113.54 311.22,112.36" fill="#8e1f8f"/>
<text transform="translate(306.30,97.40) rotate(-92)" font-size="9" text-anchor="middle" fill="#8e1f8f" stroke="#8e1f8f" stroke-width="0.22">Step2</text>
<line x1="355.10" y1="124.00" x2="357.99" y2="90.87" stroke="#3f5ea3" stroke-width="1.6"/>
<polygon points="358.60,83.90 360.49,92.10 358.03,90.38 355.31,91.64" fill="#3f5ea3"/>
<text transform="translate(368.60,106.00) rotate(-85)" font-size="9" text-anchor="middle" fill="#3f5ea3" stroke="#3f5ea3" stroke-width="0.22">Step1</text>
<rect x="194.5" y="25.2" width="182.30" height="155.30" fill="none" stroke="#7c7c7c" stroke-width="1.3"/>
<line x1="421.80" y1="176.10" x2="424.80" y2="176.10" stroke="#7c7c7c" stroke-width="1.1"/>
<line x1="421.80" y1="158.15" x2="423.40" y2="158.15" stroke="#7c7c7c" stroke-width="1.1"/>
<line x1="421.80" y1="140.20" x2="424.80" y2="140.20" stroke="#7c7c7c" stroke-width="1.1"/>
<line x1="421.80" y1="122.25" x2="423.40" y2="122.25" stroke="#7c7c7c" stroke-width="1.1"/>
<line x1="421.80" y1="104.30" x2="424.80" y2="104.30" stroke="#7c7c7c" stroke-width="1.1"/>
<line x1="421.80" y1="86.35" x2="423.40" y2="86.35" stroke="#7c7c7c" stroke-width="1.1"/>
<line x1="421.80" y1="68.40" x2="424.80" y2="68.40" stroke="#7c7c7c" stroke-width="1.1"/>
<line x1="421.80" y1="50.45" x2="423.40" y2="50.45" stroke="#7c7c7c" stroke-width="1.1"/>
<line x1="421.80" y1="32.50" x2="424.80" y2="32.50" stroke="#7c7c7c" stroke-width="1.1"/>
<text x="417.80" y="34.70" font-size="11.8" text-anchor="end" fill="#111" stroke="#111" stroke-width="0.22">10</text>
<text x="417.80" y="70.60" font-size="11.8" text-anchor="end" fill="#111" stroke="#111" stroke-width="0.22">5</text>
<text x="417.80" y="106.50" font-size="11.8" text-anchor="end" fill="#111" stroke="#111" stroke-width="0.22">0</text>
<text x="417.80" y="142.40" font-size="11.8" text-anchor="end" fill="#111" stroke="#111" stroke-width="0.22">-5</text>
<text x="417.80" y="178.30" font-size="11.8" text-anchor="end" fill="#111" stroke="#111" stroke-width="0.22">-10</text>
<line x1="436.25" y1="179.90" x2="436.25" y2="182.50" stroke="#7c7c7c" stroke-width="1.1"/>
<line x1="455.69" y1="179.90" x2="455.69" y2="181.50" stroke="#7c7c7c" stroke-width="1.1"/>
<line x1="475.12" y1="179.90" x2="475.12" y2="182.50" stroke="#7c7c7c" stroke-width="1.1"/>
<line x1="494.56" y1="179.90" x2="494.56" y2="181.50" stroke="#7c7c7c" stroke-width="1.1"/>
<line x1="514.00" y1="179.90" x2="514.00" y2="182.50" stroke="#7c7c7c" stroke-width="1.1"/>
<line x1="533.44" y1="179.90" x2="533.44" y2="181.50" stroke="#7c7c7c" stroke-width="1.1"/>
<line x1="552.88" y1="179.90" x2="552.88" y2="182.50" stroke="#7c7c7c" stroke-width="1.1"/>
<line x1="572.31" y1="179.90" x2="572.31" y2="181.50" stroke="#7c7c7c" stroke-width="1.1"/>
<line x1="591.75" y1="179.90" x2="591.75" y2="182.50" stroke="#7c7c7c" stroke-width="1.1"/>
<text x="430.40" y="194.50" font-size="11" text-anchor="middle" fill="#111" stroke="#111" stroke-width="0.22">-5</text>
<text x="473.50" y="194.50" font-size="11" text-anchor="middle" fill="#111" stroke="#111" stroke-width="0.22">-2.5</text>
<text x="514.20" y="194.50" font-size="11" text-anchor="middle" fill="#111" stroke="#111" stroke-width="0.22">0</text>
<text x="553.30" y="194.50" font-size="11" text-anchor="middle" fill="#111" stroke="#111" stroke-width="0.22">2.5</text>
<text x="592.90" y="194.50" font-size="11" text-anchor="middle" fill="#111" stroke="#111" stroke-width="0.22">5</text>
<text x="515.00" y="204.90" font-size="12.7" text-anchor="middle" fill="#111" stroke="#111" stroke-width="0.22">Bias (V)</text>
<text transform="translate(404.00,99.00) rotate(-90)" font-size="12" text-anchor="middle" fill="#111" stroke="#111" stroke-width="0.22">Current (nA)</text>
<polyline points="435.80,171.90 513.20,171.90 513.40,140.00 514.10,108.60" fill="none" stroke="#e8a322" stroke-width="1.9" stroke-linejoin="round" stroke-linecap="butt"/>
<polyline points="514.10,104.40 476.00,104.40 474.00,105.00 472.50,107.60 471.60,118.00 470.70,131.10 469.80,140.00 468.90,149.20 468.00,160.00 467.30,171.50" fill="none" stroke="#4f9b5d" stroke-width="2" stroke-linejoin="round" stroke-linecap="butt"/>
<rect x="466" y="163" width="2.8" height="9" fill="#4f9b5d"/>
<polyline points="514.10,104.40 516.50,97.00 519.20,83.20 520.20,70.00 521.00,58.30 522.00,45.00 523.00,30.50 523.30,29.60 557.50,29.60" fill="none" stroke="#3f5ea3" stroke-width="1.9" stroke-linejoin="round" stroke-linecap="butt"/>
<polyline points="514.10,104.40 525.00,103.90 535.50,103.10 538.00,100.60 541.00,98.20 544.00,96.00 547.00,93.50 549.50,90.50 550.80,87.00 551.80,83.00 553.00,77.50 554.00,72.50 555.20,62.00 555.80,50.00 556.60,40.00 557.50,30.00 558.00,29.60 592.90,29.60" fill="none" stroke="#8e1f8f" stroke-width="2" stroke-linejoin="round" stroke-linecap="butt"/>
<polyline points="539.00,100.00 540.50,98.20 541.80,99.00 543.00,96.50 544.60,97.00 546.00,94.00 547.80,94.20 549.00,91.00 550.60,89.50 551.20,86.00 552.60,85.50 552.80,81.00 554.00,80.00 554.20,75.00" fill="none" stroke="#8e1f8f" stroke-width="2.0" stroke-linejoin="round" stroke-linecap="butt"/>
<line x1="424.60" y1="35.30" x2="441.50" y2="35.30" stroke="#3f5ea3" stroke-width="2"/>
<text x="445.40" y="39.80" font-size="8.6" text-anchor="start" fill="#111" stroke="#111" stroke-width="0.22">Step1:</text>
<text x="475.00" y="39.80" font-size="9" text-anchor="start" fill="#111" stroke="#111" stroke-width="0.22">0 V</text>
<text x="514.60" y="39.80" font-size="9" text-anchor="end" fill="#111" stroke="#111" stroke-width="0.22">5 V</text>
<path d="M490.90,37.00 H497.90 M495.64,34.40 L498.50,37.00 L495.64,39.60" fill="none" stroke="#111" stroke-width="1.15" stroke-linejoin="miter"/>
<line x1="424.60" y1="47.30" x2="441.50" y2="47.30" stroke="#8e1f8f" stroke-width="2"/>
<text x="445.40" y="50.60" font-size="8.6" text-anchor="start" fill="#111" stroke="#111" stroke-width="0.22">Step2:</text>
<text x="474.60" y="50.60" font-size="9" text-anchor="start" fill="#111" stroke="#111" stroke-width="0.22">5 V</text>
<text x="514.60" y="50.60" font-size="9" text-anchor="end" fill="#111" stroke="#111" stroke-width="0.22">0 V</text>
<path d="M490.40,47.80 H497.40 M495.14,45.20 L498.00,47.80 L495.14,50.40" fill="none" stroke="#111" stroke-width="1.15" stroke-linejoin="miter"/>
<line x1="424.60" y1="57.00" x2="441.50" y2="57.00" stroke="#4f9b5d" stroke-width="2"/>
<text x="445.40" y="60.90" font-size="8.6" text-anchor="start" fill="#111" stroke="#111" stroke-width="0.22">Step3:</text>
<text x="472.20" y="60.90" font-size="9" text-anchor="start" fill="#111" stroke="#111" stroke-width="0.22">0 V</text>
<text x="514.60" y="60.90" font-size="9" text-anchor="end" fill="#111" stroke="#111" stroke-width="0.22">-5 V</text>
<path d="M488.00,58.10 H495.00 M492.74,55.50 L495.60,58.10 L492.74,60.70" fill="none" stroke="#111" stroke-width="1.15" stroke-linejoin="miter"/>
<line x1="424.60" y1="68.40" x2="441.50" y2="68.40" stroke="#e8a322" stroke-width="2"/>
<text x="445.40" y="71.40" font-size="8.6" text-anchor="start" fill="#111" stroke="#111" stroke-width="0.22">Step4:</text>
<text x="472.20" y="71.40" font-size="9" text-anchor="start" fill="#111" stroke="#111" stroke-width="0.22">-5 V</text>
<text x="514.60" y="71.40" font-size="9" text-anchor="end" fill="#111" stroke="#111" stroke-width="0.22">0 V</text>
<path d="M490.90,68.60 H497.90 M495.64,66.00 L498.50,68.60 L495.64,71.20" fill="none" stroke="#111" stroke-width="1.15" stroke-linejoin="miter"/>
<line x1="463.50" y1="119.40" x2="461.36" y2="145.82" stroke="#4f9b5d" stroke-width="1.6"/>
<polygon points="460.80,152.80 458.85,144.62 461.32,146.32 464.04,145.04" fill="#4f9b5d"/>
<text transform="translate(458.20,133.60) rotate(-95)" font-size="9" text-anchor="middle" fill="#4f9b5d" stroke="#4f9b5d" stroke-width="0.22">Step3</text>
<line x1="506.00" y1="154.60" x2="506.91" y2="132.69" stroke="#e8a322" stroke-width="1.6"/>
<polygon points="507.20,125.70 509.47,133.80 506.93,132.19 504.27,133.59" fill="#e8a322"/>
<text transform="translate(501.40,140.40) rotate(-92)" font-size="9" text-anchor="middle" fill="#e8a322" stroke="#e8a322" stroke-width="0.22">Step4</text>
<line x1="524.90" y1="82.30" x2="527.21" y2="54.78" stroke="#3f5ea3" stroke-width="1.6"/>
<polygon points="527.80,47.80 529.72,55.99 527.26,54.28 524.54,55.55" fill="#3f5ea3"/>
<text transform="translate(537.60,66.00) rotate(-88)" font-size="9" text-anchor="middle" fill="#3f5ea3" stroke="#3f5ea3" stroke-width="0.22">Step1</text>
<line x1="562.30" y1="46.80" x2="559.13" y2="77.24" stroke="#8e1f8f" stroke-width="1.6"/>
<polygon points="558.40,84.20 556.64,75.97 559.07,77.74 561.82,76.51" fill="#8e1f8f"/>
<text transform="translate(570.40,64.00) rotate(-84)" font-size="9" text-anchor="middle" fill="#8e1f8f" stroke="#8e1f8f" stroke-width="0.22">Step2</text>
<rect x="421.8" y="25" width="184.20" height="154.90" fill="none" stroke="#7c7c7c" stroke-width="1.3"/>
<line x1="50.70" y1="423.70" x2="52.70" y2="423.70" stroke="#444" stroke-width="1"/>
<line x1="51.90" y1="418.31" x2="53.50" y2="418.31" stroke="#444" stroke-width="0.7"/>
<line x1="51.90" y1="415.15" x2="53.50" y2="415.15" stroke="#444" stroke-width="0.7"/>
<line x1="51.90" y1="412.91" x2="53.50" y2="412.91" stroke="#444" stroke-width="0.7"/>
<line x1="51.90" y1="411.17" x2="53.50" y2="411.17" stroke="#444" stroke-width="0.7"/>
<line x1="51.90" y1="409.76" x2="53.50" y2="409.76" stroke="#444" stroke-width="0.7"/>
<line x1="51.90" y1="408.56" x2="53.50" y2="408.56" stroke="#444" stroke-width="0.7"/>
<line x1="51.90" y1="407.52" x2="53.50" y2="407.52" stroke="#444" stroke-width="0.7"/>
<line x1="51.90" y1="406.60" x2="53.50" y2="406.60" stroke="#444" stroke-width="0.7"/>
<line x1="50.70" y1="405.78" x2="52.70" y2="405.78" stroke="#444" stroke-width="1"/>
<line x1="51.90" y1="400.39" x2="53.50" y2="400.39" stroke="#444" stroke-width="0.7"/>
<line x1="51.90" y1="397.23" x2="53.50" y2="397.23" stroke="#444" stroke-width="0.7"/>
<line x1="51.90" y1="394.99" x2="53.50" y2="394.99" stroke="#444" stroke-width="0.7"/>
<line x1="51.90" y1="393.25" x2="53.50" y2="393.25" stroke="#444" stroke-width="0.7"/>
<line x1="51.90" y1="391.84" x2="53.50" y2="391.84" stroke="#444" stroke-width="0.7"/>
<line x1="51.90" y1="390.64" x2="53.50" y2="390.64" stroke="#444" stroke-width="0.7"/>
<line x1="51.90" y1="389.60" x2="53.50" y2="389.60" stroke="#444" stroke-width="0.7"/>
<line x1="51.90" y1="388.68" x2="53.50" y2="388.68" stroke="#444" stroke-width="0.7"/>
<line x1="50.70" y1="387.86" x2="52.70" y2="387.86" stroke="#444" stroke-width="1"/>
<line x1="51.90" y1="382.47" x2="53.50" y2="382.47" stroke="#444" stroke-width="0.7"/>
<line x1="51.90" y1="379.31" x2="53.50" y2="379.31" stroke="#444" stroke-width="0.7"/>
<line x1="51.90" y1="377.07" x2="53.50" y2="377.07" stroke="#444" stroke-width="0.7"/>
<line x1="51.90" y1="375.33" x2="53.50" y2="375.33" stroke="#444" stroke-width="0.7"/>
<line x1="51.90" y1="373.92" x2="53.50" y2="373.92" stroke="#444" stroke-width="0.7"/>
<line x1="51.90" y1="372.72" x2="53.50" y2="372.72" stroke="#444" stroke-width="0.7"/>
<line x1="51.90" y1="371.68" x2="53.50" y2="371.68" stroke="#444" stroke-width="0.7"/>
<line x1="51.90" y1="370.76" x2="53.50" y2="370.76" stroke="#444" stroke-width="0.7"/>
<line x1="50.70" y1="369.94" x2="52.70" y2="369.94" stroke="#444" stroke-width="1"/>
<line x1="51.90" y1="364.55" x2="53.50" y2="364.55" stroke="#444" stroke-width="0.7"/>
<line x1="51.90" y1="361.39" x2="53.50" y2="361.39" stroke="#444" stroke-width="0.7"/>
<line x1="51.90" y1="359.15" x2="53.50" y2="359.15" stroke="#444" stroke-width="0.7"/>
<line x1="51.90" y1="357.41" x2="53.50" y2="357.41" stroke="#444" stroke-width="0.7"/>
<line x1="51.90" y1="356.00" x2="53.50" y2="356.00" stroke="#444" stroke-width="0.7"/>
<line x1="51.90" y1="354.80" x2="53.50" y2="354.80" stroke="#444" stroke-width="0.7"/>
<line x1="51.90" y1="353.76" x2="53.50" y2="353.76" stroke="#444" stroke-width="0.7"/>
<line x1="51.90" y1="352.84" x2="53.50" y2="352.84" stroke="#444" stroke-width="0.7"/>
<line x1="50.70" y1="352.02" x2="52.70" y2="352.02" stroke="#444" stroke-width="1"/>
<line x1="51.90" y1="346.63" x2="53.50" y2="346.63" stroke="#444" stroke-width="0.7"/>
<line x1="51.90" y1="343.47" x2="53.50" y2="343.47" stroke="#444" stroke-width="0.7"/>
<line x1="51.90" y1="341.23" x2="53.50" y2="341.23" stroke="#444" stroke-width="0.7"/>
<line x1="51.90" y1="339.49" x2="53.50" y2="339.49" stroke="#444" stroke-width="0.7"/>
<line x1="51.90" y1="338.08" x2="53.50" y2="338.08" stroke="#444" stroke-width="0.7"/>
<line x1="51.90" y1="336.88" x2="53.50" y2="336.88" stroke="#444" stroke-width="0.7"/>
<line x1="51.90" y1="335.84" x2="53.50" y2="335.84" stroke="#444" stroke-width="0.7"/>
<line x1="51.90" y1="334.92" x2="53.50" y2="334.92" stroke="#444" stroke-width="0.7"/>
<line x1="50.70" y1="334.10" x2="52.70" y2="334.10" stroke="#444" stroke-width="1"/>
<line x1="51.90" y1="328.71" x2="53.50" y2="328.71" stroke="#444" stroke-width="0.7"/>
<line x1="51.90" y1="325.55" x2="53.50" y2="325.55" stroke="#444" stroke-width="0.7"/>
<line x1="51.90" y1="323.31" x2="53.50" y2="323.31" stroke="#444" stroke-width="0.7"/>
<line x1="51.90" y1="321.57" x2="53.50" y2="321.57" stroke="#444" stroke-width="0.7"/>
<line x1="51.90" y1="320.16" x2="53.50" y2="320.16" stroke="#444" stroke-width="0.7"/>
<line x1="51.90" y1="318.96" x2="53.50" y2="318.96" stroke="#444" stroke-width="0.7"/>
<line x1="51.90" y1="317.92" x2="53.50" y2="317.92" stroke="#444" stroke-width="0.7"/>
<line x1="51.90" y1="317.00" x2="53.50" y2="317.00" stroke="#444" stroke-width="0.7"/>
<line x1="50.70" y1="316.18" x2="52.70" y2="316.18" stroke="#444" stroke-width="1"/>
<line x1="51.90" y1="310.79" x2="53.50" y2="310.79" stroke="#444" stroke-width="0.7"/>
<line x1="51.90" y1="307.63" x2="53.50" y2="307.63" stroke="#444" stroke-width="0.7"/>
<line x1="51.90" y1="305.39" x2="53.50" y2="305.39" stroke="#444" stroke-width="0.7"/>
<line x1="51.90" y1="303.65" x2="53.50" y2="303.65" stroke="#444" stroke-width="0.7"/>
<line x1="51.90" y1="302.24" x2="53.50" y2="302.24" stroke="#444" stroke-width="0.7"/>
<line x1="51.90" y1="301.04" x2="53.50" y2="301.04" stroke="#444" stroke-width="0.7"/>
<line x1="51.90" y1="300.00" x2="53.50" y2="300.00" stroke="#444" stroke-width="0.7"/>
<line x1="51.90" y1="299.08" x2="53.50" y2="299.08" stroke="#444" stroke-width="0.7"/>
<line x1="50.70" y1="298.26" x2="52.70" y2="298.26" stroke="#444" stroke-width="1"/>
<line x1="51.90" y1="292.87" x2="53.50" y2="292.87" stroke="#444" stroke-width="0.7"/>
<line x1="51.90" y1="289.71" x2="53.50" y2="289.71" stroke="#444" stroke-width="0.7"/>
<line x1="51.90" y1="287.47" x2="53.50" y2="287.47" stroke="#444" stroke-width="0.7"/>
<line x1="51.90" y1="285.73" x2="53.50" y2="285.73" stroke="#444" stroke-width="0.7"/>
<line x1="51.90" y1="284.32" x2="53.50" y2="284.32" stroke="#444" stroke-width="0.7"/>
<line x1="51.90" y1="283.12" x2="53.50" y2="283.12" stroke="#444" stroke-width="0.7"/>
<line x1="51.90" y1="282.08" x2="53.50" y2="282.08" stroke="#444" stroke-width="0.7"/>
<line x1="51.90" y1="281.16" x2="53.50" y2="281.16" stroke="#444" stroke-width="0.7"/>
<line x1="50.70" y1="280.34" x2="52.70" y2="280.34" stroke="#444" stroke-width="1"/>
<line x1="51.90" y1="274.95" x2="53.50" y2="274.95" stroke="#444" stroke-width="0.7"/>
<line x1="51.90" y1="271.79" x2="53.50" y2="271.79" stroke="#444" stroke-width="0.7"/>
<line x1="51.90" y1="269.55" x2="53.50" y2="269.55" stroke="#444" stroke-width="0.7"/>
<line x1="51.90" y1="267.81" x2="53.50" y2="267.81" stroke="#444" stroke-width="0.7"/>
<line x1="51.90" y1="266.40" x2="53.50" y2="266.40" stroke="#444" stroke-width="0.7"/>
<line x1="51.90" y1="265.20" x2="53.50" y2="265.20" stroke="#444" stroke-width="0.7"/>
<line x1="51.90" y1="264.16" x2="53.50" y2="264.16" stroke="#444" stroke-width="0.7"/>
<line x1="51.90" y1="263.24" x2="53.50" y2="263.24" stroke="#444" stroke-width="0.7"/>
<line x1="50.70" y1="262.42" x2="52.70" y2="262.42" stroke="#444" stroke-width="1"/>
<line x1="51.90" y1="257.03" x2="53.50" y2="257.03" stroke="#444" stroke-width="0.7"/>
<line x1="51.90" y1="253.87" x2="53.50" y2="253.87" stroke="#444" stroke-width="0.7"/>
<line x1="51.90" y1="251.63" x2="53.50" y2="251.63" stroke="#444" stroke-width="0.7"/>
<line x1="51.90" y1="249.89" x2="53.50" y2="249.89" stroke="#444" stroke-width="0.7"/>
<line x1="51.90" y1="248.48" x2="53.50" y2="248.48" stroke="#444" stroke-width="0.7"/>
<line x1="51.90" y1="247.28" x2="53.50" y2="247.28" stroke="#444" stroke-width="0.7"/>
<line x1="51.90" y1="246.24" x2="53.50" y2="246.24" stroke="#444" stroke-width="0.7"/>
<line x1="51.90" y1="245.32" x2="53.50" y2="245.32" stroke="#444" stroke-width="0.7"/>
<line x1="50.70" y1="244.50" x2="52.70" y2="244.50" stroke="#444" stroke-width="1"/>
<line x1="51.90" y1="239.11" x2="53.50" y2="239.11" stroke="#444" stroke-width="0.7"/>
<line x1="51.90" y1="235.95" x2="53.50" y2="235.95" stroke="#444" stroke-width="0.7"/>
<line x1="51.90" y1="233.71" x2="53.50" y2="233.71" stroke="#444" stroke-width="0.7"/>
<line x1="51.90" y1="231.97" x2="53.50" y2="231.97" stroke="#444" stroke-width="0.7"/>
<line x1="51.90" y1="230.56" x2="53.50" y2="230.56" stroke="#444" stroke-width="0.7"/>
<line x1="51.90" y1="229.36" x2="53.50" y2="229.36" stroke="#444" stroke-width="0.7"/>
<text x="50.60" y="430.90" font-size="12.3" text-anchor="end" fill="#111" stroke="#111" stroke-width="0.22">10<tspan font-size="8" dy="-5">-14</tspan></text>
<text x="50.60" y="395.06" font-size="12.3" text-anchor="end" fill="#111" stroke="#111" stroke-width="0.22">10<tspan font-size="8" dy="-5">-12</tspan></text>
<text x="50.60" y="359.22" font-size="12.3" text-anchor="end" fill="#111" stroke="#111" stroke-width="0.22">10<tspan font-size="8" dy="-5">-10</tspan></text>
<text x="50.60" y="323.38" font-size="12.3" text-anchor="end" fill="#111" stroke="#111" stroke-width="0.22">10<tspan font-size="8" dy="-5">-8</tspan></text>
<text x="50.60" y="287.54" font-size="12.3" text-anchor="end" fill="#111" stroke="#111" stroke-width="0.22">10<tspan font-size="8" dy="-5">-6</tspan></text>
<text x="50.60" y="251.70" font-size="12.3" text-anchor="end" fill="#111" stroke="#111" stroke-width="0.22">10<tspan font-size="8" dy="-5">-4</tspan></text>
<line x1="52.70" y1="423.70" x2="52.70" y2="420.70" stroke="#444" stroke-width="1"/>
<line x1="57.82" y1="422.90" x2="57.82" y2="424.50" stroke="#444" stroke-width="0.7"/>
<line x1="60.81" y1="422.90" x2="60.81" y2="424.50" stroke="#444" stroke-width="0.7"/>
<line x1="62.94" y1="422.90" x2="62.94" y2="424.50" stroke="#444" stroke-width="0.7"/>
<line x1="64.58" y1="422.90" x2="64.58" y2="424.50" stroke="#444" stroke-width="0.7"/>
<line x1="65.93" y1="422.90" x2="65.93" y2="424.50" stroke="#444" stroke-width="0.7"/>
<line x1="67.07" y1="422.90" x2="67.07" y2="424.50" stroke="#444" stroke-width="0.7"/>
<line x1="68.05" y1="422.90" x2="68.05" y2="424.50" stroke="#444" stroke-width="0.7"/>
<line x1="68.92" y1="422.90" x2="68.92" y2="424.50" stroke="#444" stroke-width="0.7"/>
<line x1="69.70" y1="423.70" x2="69.70" y2="421.90" stroke="#444" stroke-width="1"/>
<line x1="74.82" y1="422.90" x2="74.82" y2="424.50" stroke="#444" stroke-width="0.7"/>
<line x1="77.81" y1="422.90" x2="77.81" y2="424.50" stroke="#444" stroke-width="0.7"/>
<line x1="79.94" y1="422.90" x2="79.94" y2="424.50" stroke="#444" stroke-width="0.7"/>
<line x1="81.58" y1="422.90" x2="81.58" y2="424.50" stroke="#444" stroke-width="0.7"/>
<line x1="82.93" y1="422.90" x2="82.93" y2="424.50" stroke="#444" stroke-width="0.7"/>
<line x1="84.07" y1="422.90" x2="84.07" y2="424.50" stroke="#444" stroke-width="0.7"/>
<line x1="85.05" y1="422.90" x2="85.05" y2="424.50" stroke="#444" stroke-width="0.7"/>
<line x1="85.92" y1="422.90" x2="85.92" y2="424.50" stroke="#444" stroke-width="0.7"/>
<line x1="86.70" y1="423.70" x2="86.70" y2="421.90" stroke="#444" stroke-width="1"/>
<line x1="91.82" y1="422.90" x2="91.82" y2="424.50" stroke="#444" stroke-width="0.7"/>
<line x1="94.81" y1="422.90" x2="94.81" y2="424.50" stroke="#444" stroke-width="0.7"/>
<line x1="96.94" y1="422.90" x2="96.94" y2="424.50" stroke="#444" stroke-width="0.7"/>
<line x1="98.58" y1="422.90" x2="98.58" y2="424.50" stroke="#444" stroke-width="0.7"/>
<line x1="99.93" y1="422.90" x2="99.93" y2="424.50" stroke="#444" stroke-width="0.7"/>
<line x1="101.07" y1="422.90" x2="101.07" y2="424.50" stroke="#444" stroke-width="0.7"/>
<line x1="102.05" y1="422.90" x2="102.05" y2="424.50" stroke="#444" stroke-width="0.7"/>
<line x1="102.92" y1="422.90" x2="102.92" y2="424.50" stroke="#444" stroke-width="0.7"/>
<line x1="103.70" y1="423.70" x2="103.70" y2="421.90" stroke="#444" stroke-width="1"/>
<line x1="108.82" y1="422.90" x2="108.82" y2="424.50" stroke="#444" stroke-width="0.7"/>
<line x1="111.81" y1="422.90" x2="111.81" y2="424.50" stroke="#444" stroke-width="0.7"/>
<line x1="113.94" y1="422.90" x2="113.94" y2="424.50" stroke="#444" stroke-width="0.7"/>
<line x1="115.58" y1="422.90" x2="115.58" y2="424.50" stroke="#444" stroke-width="0.7"/>
<line x1="116.93" y1="422.90" x2="116.93" y2="424.50" stroke="#444" stroke-width="0.7"/>
<line x1="118.07" y1="422.90" x2="118.07" y2="424.50" stroke="#444" stroke-width="0.7"/>
<line x1="119.05" y1="422.90" x2="119.05" y2="424.50" stroke="#444" stroke-width="0.7"/>
<line x1="119.92" y1="422.90" x2="119.92" y2="424.50" stroke="#444" stroke-width="0.7"/>
<line x1="120.70" y1="423.70" x2="120.70" y2="420.70" stroke="#444" stroke-width="1"/>
<line x1="125.82" y1="422.90" x2="125.82" y2="424.50" stroke="#444" stroke-width="0.7"/>
<line x1="128.81" y1="422.90" x2="128.81" y2="424.50" stroke="#444" stroke-width="0.7"/>
<line x1="130.94" y1="422.90" x2="130.94" y2="424.50" stroke="#444" stroke-width="0.7"/>
<line x1="132.58" y1="422.90" x2="132.58" y2="424.50" stroke="#444" stroke-width="0.7"/>
<line x1="133.93" y1="422.90" x2="133.93" y2="424.50" stroke="#444" stroke-width="0.7"/>
<line x1="135.07" y1="422.90" x2="135.07" y2="424.50" stroke="#444" stroke-width="0.7"/>
<line x1="136.05" y1="422.90" x2="136.05" y2="424.50" stroke="#444" stroke-width="0.7"/>
<line x1="136.92" y1="422.90" x2="136.92" y2="424.50" stroke="#444" stroke-width="0.7"/>
<line x1="137.70" y1="423.70" x2="137.70" y2="421.90" stroke="#444" stroke-width="1"/>
<line x1="142.82" y1="422.90" x2="142.82" y2="424.50" stroke="#444" stroke-width="0.7"/>
<line x1="145.81" y1="422.90" x2="145.81" y2="424.50" stroke="#444" stroke-width="0.7"/>
<line x1="147.94" y1="422.90" x2="147.94" y2="424.50" stroke="#444" stroke-width="0.7"/>
<line x1="149.58" y1="422.90" x2="149.58" y2="424.50" stroke="#444" stroke-width="0.7"/>
<line x1="150.93" y1="422.90" x2="150.93" y2="424.50" stroke="#444" stroke-width="0.7"/>
<line x1="152.07" y1="422.90" x2="152.07" y2="424.50" stroke="#444" stroke-width="0.7"/>
<line x1="153.05" y1="422.90" x2="153.05" y2="424.50" stroke="#444" stroke-width="0.7"/>
<line x1="153.92" y1="422.90" x2="153.92" y2="424.50" stroke="#444" stroke-width="0.7"/>
<line x1="154.70" y1="423.70" x2="154.70" y2="421.90" stroke="#444" stroke-width="1"/>
<line x1="159.82" y1="422.90" x2="159.82" y2="424.50" stroke="#444" stroke-width="0.7"/>
<line x1="162.81" y1="422.90" x2="162.81" y2="424.50" stroke="#444" stroke-width="0.7"/>
<line x1="164.94" y1="422.90" x2="164.94" y2="424.50" stroke="#444" stroke-width="0.7"/>
<line x1="166.58" y1="422.90" x2="166.58" y2="424.50" stroke="#444" stroke-width="0.7"/>
<line x1="167.93" y1="422.90" x2="167.93" y2="424.50" stroke="#444" stroke-width="0.7"/>
<line x1="169.07" y1="422.90" x2="169.07" y2="424.50" stroke="#444" stroke-width="0.7"/>
<line x1="170.05" y1="422.90" x2="170.05" y2="424.50" stroke="#444" stroke-width="0.7"/>
<line x1="170.92" y1="422.90" x2="170.92" y2="424.50" stroke="#444" stroke-width="0.7"/>
<line x1="171.70" y1="423.70" x2="171.70" y2="421.90" stroke="#444" stroke-width="1"/>
<line x1="176.82" y1="422.90" x2="176.82" y2="424.50" stroke="#444" stroke-width="0.7"/>
<line x1="179.81" y1="422.90" x2="179.81" y2="424.50" stroke="#444" stroke-width="0.7"/>
<line x1="181.94" y1="422.90" x2="181.94" y2="424.50" stroke="#444" stroke-width="0.7"/>
<line x1="183.58" y1="422.90" x2="183.58" y2="424.50" stroke="#444" stroke-width="0.7"/>
<line x1="184.93" y1="422.90" x2="184.93" y2="424.50" stroke="#444" stroke-width="0.7"/>
<line x1="186.07" y1="422.90" x2="186.07" y2="424.50" stroke="#444" stroke-width="0.7"/>
<line x1="187.05" y1="422.90" x2="187.05" y2="424.50" stroke="#444" stroke-width="0.7"/>
<line x1="187.92" y1="422.90" x2="187.92" y2="424.50" stroke="#444" stroke-width="0.7"/>
<line x1="188.70" y1="423.70" x2="188.70" y2="420.70" stroke="#444" stroke-width="1"/>
<line x1="193.82" y1="422.90" x2="193.82" y2="424.50" stroke="#444" stroke-width="0.7"/>
<text x="52.20" y="438.00" font-size="12.5" text-anchor="middle" fill="#111" stroke="#111" stroke-width="0.22">0</text>
<text x="121.00" y="438.00" font-size="12.5" text-anchor="middle" fill="#111" stroke="#111" stroke-width="0.22">10<tspan font-size="9" dy="-4.5">4</tspan></text>
<text x="189.50" y="438.00" font-size="12.5" text-anchor="middle" fill="#111" stroke="#111" stroke-width="0.22">10<tspan font-size="9" dy="-4.5">8</tspan></text>
<text x="125.00" y="450.20" font-size="13" text-anchor="middle" fill="#111" stroke="#111" stroke-width="0.22">Times (s)</text>
<text transform="translate(22.60,326.50) rotate(-90)" font-size="13" text-anchor="middle" fill="#111" stroke="#111" stroke-width="0.22">Current (A)</text>
<line x1="53.50" y1="250.80" x2="196.00" y2="252.40" stroke="#4f9b5d" stroke-width="2.2" stroke-dasharray="3.2,2.2"/>
<rect x="81.5" y="250" width="45.5" height="4.4" fill="#e8a322"/>
<polyline points="81.20,252.00 84.00,250.00 86.00,253.00" fill="none" stroke="#e8a322" stroke-width="1.5" stroke-linejoin="round" stroke-linecap="butt"/>
<line x1="53.50" y1="250.80" x2="196.00" y2="252.40" stroke="#4f9b5d" stroke-width="2.2" stroke-dasharray="3.2,2.2" stroke-dashoffset="1"/>
<polyline points="69.10,316.90 87.80,316.90 87.80,277.80 106.10,277.80 106.10,316.90 142.60,316.90" fill="none" stroke="#e8a322" stroke-width="1.5" stroke-linejoin="round" stroke-linecap="butt"/>
<polyline points="69.10,329.90 87.80,329.90 87.80,369.40 106.10,369.40 106.10,329.90 142.60,329.90" fill="none" stroke="#4f9b5d" stroke-width="1.5" stroke-linejoin="round" stroke-linecap="butt"/>
<path d="M81.0,402.7 L82.0,402.5 L83.0,402.6 L84.0,403.1 L85.0,402.4 L86.0,402.4 L87.0,402.7 L88.0,402.6 L89.0,403.0 L90.0,402.8 L91.0,402.4 L92.0,402.3 L93.0,402.5 L94.0,402.9 L95.0,402.8 L96.0,402.1 L97.0,402.6 L98.0,402.4 L99.0,402.7 L100.0,402.3 L101.0,402.1 L102.0,402.5 L103.0,402.6 L104.0,402.5 L105.0,402.7 L106.0,402.4 L107.0,402.0 L108.0,402.4 L109.0,402.1 L110.0,401.8 L111.0,402.0 L112.0,402.6 L113.0,402.3 L114.0,401.7 L115.0,401.6 L116.0,401.5 L117.0,400.9 L118.0,401.4 L119.0,401.2 L120.0,401.5 L121.0,401.0 L121.0,408.5 L120.0,408.4 L119.0,408.5 L118.0,408.3 L117.0,408.9 L116.0,408.9 L115.0,409.2 L114.0,408.6 L113.0,409.2 L112.0,409.5 L111.0,409.7 L110.0,409.1 L109.0,409.3 L108.0,409.8 L107.0,409.9 L106.0,409.8 L105.0,410.2 L104.0,410.2 L103.0,409.8 L102.0,409.9 L101.0,410.0 L100.0,410.6 L99.0,410.5 L98.0,410.3 L97.0,410.4 L96.0,410.3 L95.0,409.7 L94.0,410.1 L93.0,409.4 L92.0,409.2 L91.0,409.1 L90.0,409.6 L89.0,408.9 L88.0,409.0 L87.0,408.6 L86.0,408.4 L85.0,408.7 L84.0,408.4 L83.0,408.7 L82.0,408.6 L81.0,408.4 Z" fill="#4f9b5d"/>
<path d="M116,406 L119,403 L122,401.5 L124.6,399.2 L127.3,400 L127.6,423 L121.2,423 L120.2,414 L118,410 Z" fill="#4f9b5d"/>
<line x1="53.50" y1="404.40" x2="196.00" y2="409.60" stroke="#e8a322" stroke-width="2.2" stroke-dasharray="3.4,2.4"/>
<rect x="52.7" y="229" width="144.30" height="194.70" fill="none" stroke="#444" stroke-width="1.2"/>
<line x1="246.50" y1="424.20" x2="248.50" y2="424.20" stroke="#444" stroke-width="1"/>
<line x1="247.70" y1="418.87" x2="249.30" y2="418.87" stroke="#444" stroke-width="0.7"/>
<line x1="247.70" y1="415.75" x2="249.30" y2="415.75" stroke="#444" stroke-width="0.7"/>
<line x1="247.70" y1="413.53" x2="249.30" y2="413.53" stroke="#444" stroke-width="0.7"/>
<line x1="247.70" y1="411.81" x2="249.30" y2="411.81" stroke="#444" stroke-width="0.7"/>
<line x1="247.70" y1="410.41" x2="249.30" y2="410.41" stroke="#444" stroke-width="0.7"/>
<line x1="247.70" y1="409.22" x2="249.30" y2="409.22" stroke="#444" stroke-width="0.7"/>
<line x1="247.70" y1="408.20" x2="249.30" y2="408.20" stroke="#444" stroke-width="0.7"/>
<line x1="247.70" y1="407.29" x2="249.30" y2="407.29" stroke="#444" stroke-width="0.7"/>
<line x1="246.50" y1="406.48" x2="248.50" y2="406.48" stroke="#444" stroke-width="1"/>
<line x1="247.70" y1="401.15" x2="249.30" y2="401.15" stroke="#444" stroke-width="0.7"/>
<line x1="247.70" y1="398.03" x2="249.30" y2="398.03" stroke="#444" stroke-width="0.7"/>
<line x1="247.70" y1="395.81" x2="249.30" y2="395.81" stroke="#444" stroke-width="0.7"/>
<line x1="247.70" y1="394.09" x2="249.30" y2="394.09" stroke="#444" stroke-width="0.7"/>
<line x1="247.70" y1="392.69" x2="249.30" y2="392.69" stroke="#444" stroke-width="0.7"/>
<line x1="247.70" y1="391.50" x2="249.30" y2="391.50" stroke="#444" stroke-width="0.7"/>
<line x1="247.70" y1="390.48" x2="249.30" y2="390.48" stroke="#444" stroke-width="0.7"/>
<line x1="247.70" y1="389.57" x2="249.30" y2="389.57" stroke="#444" stroke-width="0.7"/>
<line x1="246.50" y1="388.76" x2="248.50" y2="388.76" stroke="#444" stroke-width="1"/>
<line x1="247.70" y1="383.43" x2="249.30" y2="383.43" stroke="#444" stroke-width="0.7"/>
<line x1="247.70" y1="380.31" x2="249.30" y2="380.31" stroke="#444" stroke-width="0.7"/>
<line x1="247.70" y1="378.09" x2="249.30" y2="378.09" stroke="#444" stroke-width="0.7"/>
<line x1="247.70" y1="376.37" x2="249.30" y2="376.37" stroke="#444" stroke-width="0.7"/>
<line x1="247.70" y1="374.97" x2="249.30" y2="374.97" stroke="#444" stroke-width="0.7"/>
<line x1="247.70" y1="373.78" x2="249.30" y2="373.78" stroke="#444" stroke-width="0.7"/>
<line x1="247.70" y1="372.76" x2="249.30" y2="372.76" stroke="#444" stroke-width="0.7"/>
<line x1="247.70" y1="371.85" x2="249.30" y2="371.85" stroke="#444" stroke-width="0.7"/>
<line x1="246.50" y1="371.04" x2="248.50" y2="371.04" stroke="#444" stroke-width="1"/>
<line x1="247.70" y1="365.71" x2="249.30" y2="365.71" stroke="#444" stroke-width="0.7"/>
<line x1="247.70" y1="362.59" x2="249.30" y2="362.59" stroke="#444" stroke-width="0.7"/>
<line x1="247.70" y1="360.37" x2="249.30" y2="360.37" stroke="#444" stroke-width="0.7"/>
<line x1="247.70" y1="358.65" x2="249.30" y2="358.65" stroke="#444" stroke-width="0.7"/>
<line x1="247.70" y1="357.25" x2="249.30" y2="357.25" stroke="#444" stroke-width="0.7"/>
<line x1="247.70" y1="356.06" x2="249.30" y2="356.06" stroke="#444" stroke-width="0.7"/>
<line x1="247.70" y1="355.04" x2="249.30" y2="355.04" stroke="#444" stroke-width="0.7"/>
<line x1="247.70" y1="354.13" x2="249.30" y2="354.13" stroke="#444" stroke-width="0.7"/>
<line x1="246.50" y1="353.32" x2="248.50" y2="353.32" stroke="#444" stroke-width="1"/>
<line x1="247.70" y1="347.99" x2="249.30" y2="347.99" stroke="#444" stroke-width="0.7"/>
<line x1="247.70" y1="344.87" x2="249.30" y2="344.87" stroke="#444" stroke-width="0.7"/>
<line x1="247.70" y1="342.65" x2="249.30" y2="342.65" stroke="#444" stroke-width="0.7"/>
<line x1="247.70" y1="340.93" x2="249.30" y2="340.93" stroke="#444" stroke-width="0.7"/>
<line x1="247.70" y1="339.53" x2="249.30" y2="339.53" stroke="#444" stroke-width="0.7"/>
<line x1="247.70" y1="338.34" x2="249.30" y2="338.34" stroke="#444" stroke-width="0.7"/>
<line x1="247.70" y1="337.32" x2="249.30" y2="337.32" stroke="#444" stroke-width="0.7"/>
<line x1="247.70" y1="336.41" x2="249.30" y2="336.41" stroke="#444" stroke-width="0.7"/>
<line x1="246.50" y1="335.60" x2="248.50" y2="335.60" stroke="#444" stroke-width="1"/>
<line x1="247.70" y1="330.27" x2="249.30" y2="330.27" stroke="#444" stroke-width="0.7"/>
<line x1="247.70" y1="327.15" x2="249.30" y2="327.15" stroke="#444" stroke-width="0.7"/>
<line x1="247.70" y1="324.93" x2="249.30" y2="324.93" stroke="#444" stroke-width="0.7"/>
<line x1="247.70" y1="323.21" x2="249.30" y2="323.21" stroke="#444" stroke-width="0.7"/>
<line x1="247.70" y1="321.81" x2="249.30" y2="321.81" stroke="#444" stroke-width="0.7"/>
<line x1="247.70" y1="320.62" x2="249.30" y2="320.62" stroke="#444" stroke-width="0.7"/>
<line x1="247.70" y1="319.60" x2="249.30" y2="319.60" stroke="#444" stroke-width="0.7"/>
<line x1="247.70" y1="318.69" x2="249.30" y2="318.69" stroke="#444" stroke-width="0.7"/>
<line x1="246.50" y1="317.88" x2="248.50" y2="317.88" stroke="#444" stroke-width="1"/>
<line x1="247.70" y1="312.55" x2="249.30" y2="312.55" stroke="#444" stroke-width="0.7"/>
<line x1="247.70" y1="309.43" x2="249.30" y2="309.43" stroke="#444" stroke-width="0.7"/>
<line x1="247.70" y1="307.21" x2="249.30" y2="307.21" stroke="#444" stroke-width="0.7"/>
<line x1="247.70" y1="305.49" x2="249.30" y2="305.49" stroke="#444" stroke-width="0.7"/>
<line x1="247.70" y1="304.09" x2="249.30" y2="304.09" stroke="#444" stroke-width="0.7"/>
<line x1="247.70" y1="302.90" x2="249.30" y2="302.90" stroke="#444" stroke-width="0.7"/>
<line x1="247.70" y1="301.88" x2="249.30" y2="301.88" stroke="#444" stroke-width="0.7"/>
<line x1="247.70" y1="300.97" x2="249.30" y2="300.97" stroke="#444" stroke-width="0.7"/>
<line x1="246.50" y1="300.16" x2="248.50" y2="300.16" stroke="#444" stroke-width="1"/>
<line x1="247.70" y1="294.83" x2="249.30" y2="294.83" stroke="#444" stroke-width="0.7"/>
<line x1="247.70" y1="291.71" x2="249.30" y2="291.71" stroke="#444" stroke-width="0.7"/>
<line x1="247.70" y1="289.49" x2="249.30" y2="289.49" stroke="#444" stroke-width="0.7"/>
<line x1="247.70" y1="287.77" x2="249.30" y2="287.77" stroke="#444" stroke-width="0.7"/>
<line x1="247.70" y1="286.37" x2="249.30" y2="286.37" stroke="#444" stroke-width="0.7"/>
<line x1="247.70" y1="285.18" x2="249.30" y2="285.18" stroke="#444" stroke-width="0.7"/>
<line x1="247.70" y1="284.16" x2="249.30" y2="284.16" stroke="#444" stroke-width="0.7"/>
<line x1="247.70" y1="283.25" x2="249.30" y2="283.25" stroke="#444" stroke-width="0.7"/>
<line x1="246.50" y1="282.44" x2="248.50" y2="282.44" stroke="#444" stroke-width="1"/>
<line x1="247.70" y1="277.11" x2="249.30" y2="277.11" stroke="#444" stroke-width="0.7"/>
<line x1="247.70" y1="273.99" x2="249.30" y2="273.99" stroke="#444" stroke-width="0.7"/>
<line x1="247.70" y1="271.77" x2="249.30" y2="271.77" stroke="#444" stroke-width="0.7"/>
<line x1="247.70" y1="270.05" x2="249.30" y2="270.05" stroke="#444" stroke-width="0.7"/>
<line x1="247.70" y1="268.65" x2="249.30" y2="268.65" stroke="#444" stroke-width="0.7"/>
<line x1="247.70" y1="267.46" x2="249.30" y2="267.46" stroke="#444" stroke-width="0.7"/>
<line x1="247.70" y1="266.44" x2="249.30" y2="266.44" stroke="#444" stroke-width="0.7"/>
<line x1="247.70" y1="265.53" x2="249.30" y2="265.53" stroke="#444" stroke-width="0.7"/>
<line x1="246.50" y1="264.72" x2="248.50" y2="264.72" stroke="#444" stroke-width="1"/>
<line x1="247.70" y1="259.39" x2="249.30" y2="259.39" stroke="#444" stroke-width="0.7"/>
<line x1="247.70" y1="256.27" x2="249.30" y2="256.27" stroke="#444" stroke-width="0.7"/>
<line x1="247.70" y1="254.05" x2="249.30" y2="254.05" stroke="#444" stroke-width="0.7"/>
<line x1="247.70" y1="252.33" x2="249.30" y2="252.33" stroke="#444" stroke-width="0.7"/>
<line x1="247.70" y1="250.93" x2="249.30" y2="250.93" stroke="#444" stroke-width="0.7"/>
<line x1="247.70" y1="249.74" x2="249.30" y2="249.74" stroke="#444" stroke-width="0.7"/>
<line x1="247.70" y1="248.72" x2="249.30" y2="248.72" stroke="#444" stroke-width="0.7"/>
<line x1="247.70" y1="247.81" x2="249.30" y2="247.81" stroke="#444" stroke-width="0.7"/>
<line x1="246.50" y1="247.00" x2="248.50" y2="247.00" stroke="#444" stroke-width="1"/>
<line x1="247.70" y1="241.67" x2="249.30" y2="241.67" stroke="#444" stroke-width="0.7"/>
<line x1="247.70" y1="238.55" x2="249.30" y2="238.55" stroke="#444" stroke-width="0.7"/>
<line x1="247.70" y1="236.33" x2="249.30" y2="236.33" stroke="#444" stroke-width="0.7"/>
<line x1="247.70" y1="234.61" x2="249.30" y2="234.61" stroke="#444" stroke-width="0.7"/>
<line x1="247.70" y1="233.21" x2="249.30" y2="233.21" stroke="#444" stroke-width="0.7"/>
<line x1="247.70" y1="232.02" x2="249.30" y2="232.02" stroke="#444" stroke-width="0.7"/>
<line x1="247.70" y1="231.00" x2="249.30" y2="231.00" stroke="#444" stroke-width="0.7"/>
<line x1="247.70" y1="230.09" x2="249.30" y2="230.09" stroke="#444" stroke-width="0.7"/>
<line x1="246.50" y1="229.28" x2="248.50" y2="229.28" stroke="#444" stroke-width="1"/>
<text x="244.00" y="430.40" font-size="12.3" text-anchor="end" fill="#111" stroke="#111" stroke-width="0.22">10<tspan font-size="8" dy="-5">-14</tspan></text>
<text x="244.00" y="394.96" font-size="12.3" text-anchor="end" fill="#111" stroke="#111" stroke-width="0.22">10<tspan font-size="8" dy="-5">-12</tspan></text>
<text x="244.00" y="359.52" font-size="12.3" text-anchor="end" fill="#111" stroke="#111" stroke-width="0.22">10<tspan font-size="8" dy="-5">-10</tspan></text>
<text x="244.00" y="324.08" font-size="12.3" text-anchor="end" fill="#111" stroke="#111" stroke-width="0.22">10<tspan font-size="8" dy="-5">-8</tspan></text>
<text x="244.00" y="288.64" font-size="12.3" text-anchor="end" fill="#111" stroke="#111" stroke-width="0.22">10<tspan font-size="8" dy="-5">-6</tspan></text>
<text x="244.00" y="253.20" font-size="12.3" text-anchor="end" fill="#111" stroke="#111" stroke-width="0.22">10<tspan font-size="8" dy="-5">-4</tspan></text>
<line x1="248.60" y1="424.00" x2="248.60" y2="426.80" stroke="#444" stroke-width="1"/>
<line x1="265.85" y1="424.00" x2="265.85" y2="425.80" stroke="#444" stroke-width="1"/>
<line x1="283.10" y1="424.00" x2="283.10" y2="426.80" stroke="#444" stroke-width="1"/>
<line x1="300.35" y1="424.00" x2="300.35" y2="425.80" stroke="#444" stroke-width="1"/>
<line x1="317.60" y1="424.00" x2="317.60" y2="426.80" stroke="#444" stroke-width="1"/>
<line x1="334.85" y1="424.00" x2="334.85" y2="425.80" stroke="#444" stroke-width="1"/>
<line x1="352.10" y1="424.00" x2="352.10" y2="426.80" stroke="#444" stroke-width="1"/>
<line x1="369.35" y1="424.00" x2="369.35" y2="425.80" stroke="#444" stroke-width="1"/>
<line x1="386.60" y1="424.00" x2="386.60" y2="426.80" stroke="#444" stroke-width="1"/>
<text x="247.30" y="438.30" font-size="12.8" text-anchor="middle" fill="#111" stroke="#111" stroke-width="0.22">0</text>
<text x="317.40" y="438.30" font-size="12.8" text-anchor="middle" fill="#111" stroke="#111" stroke-width="0.22">100</text>
<text x="387.80" y="438.30" font-size="12.8" text-anchor="middle" fill="#111" stroke="#111" stroke-width="0.22">200</text>
<text x="317.00" y="451.30" font-size="13" text-anchor="middle" fill="#111" stroke="#111" stroke-width="0.22">Cycles</text>
<text transform="translate(214.60,329.20) rotate(-90)" font-size="13" text-anchor="middle" fill="#111" stroke="#111" stroke-width="0.22">Current (A)</text>
<rect x="249" y="250.9" width="143.6" height="4.7" fill="#e8a322"/>
<rect x="247.2" y="373.9" width="2.8" height="2.8" fill="#55a062"/>
<rect x="247.9" y="374.8" width="2.8" height="2.8" fill="#55a062"/>
<rect x="248.6" y="374.4" width="2.8" height="2.8" fill="#55a062"/>
<rect x="249.3" y="375.3" width="2.8" height="2.8" fill="#55a062"/>
<rect x="249.3" y="384.6" width="2.8" height="2.8" fill="#55a062"/>
<rect x="250.0" y="377.3" width="2.8" height="2.8" fill="#55a062"/>
<rect x="250.6" y="375.9" width="2.8" height="2.8" fill="#55a062"/>
<rect x="250.6" y="383.8" width="2.8" height="2.8" fill="#55a062"/>
<rect x="251.3" y="375.6" width="2.8" height="2.8" fill="#55a062"/>
<rect x="251.3" y="388.7" width="2.8" height="2.8" fill="#55a062"/>
<rect x="252.0" y="375.9" width="2.8" height="2.8" fill="#55a062"/>
<rect x="252.7" y="375.0" width="2.8" height="2.8" fill="#55a062"/>
<rect x="252.7" y="394.6" width="2.8" height="2.8" fill="#55a062"/>
<rect x="253.4" y="374.7" width="2.8" height="2.8" fill="#55a062"/>
<rect x="254.1" y="375.3" width="2.8" height="2.8" fill="#55a062"/>
<rect x="254.8" y="375.7" width="2.8" height="2.8" fill="#55a062"/>
<rect x="254.8" y="394.1" width="2.8" height="2.8" fill="#55a062"/>
<rect x="255.5" y="375.8" width="2.8" height="2.8" fill="#55a062"/>
<rect x="255.5" y="394.4" width="2.8" height="2.8" fill="#55a062"/>
<rect x="256.2" y="376.9" width="2.8" height="2.8" fill="#55a062"/>
<rect x="256.9" y="375.9" width="2.8" height="2.8" fill="#55a062"/>
<rect x="257.6" y="375.7" width="2.8" height="2.8" fill="#55a062"/>
<rect x="257.6" y="384.7" width="2.8" height="2.8" fill="#55a062"/>
<rect x="257.6" y="412.3" width="2.8" height="2.8" fill="#55a062"/>
<rect x="258.2" y="374.7" width="2.8" height="2.8" fill="#55a062"/>
<rect x="258.2" y="391.7" width="2.8" height="2.8" fill="#55a062"/>
<rect x="258.9" y="375.1" width="2.8" height="2.8" fill="#55a062"/>
<rect x="258.9" y="388.2" width="2.8" height="2.8" fill="#55a062"/>
<rect x="259.6" y="376.6" width="2.8" height="2.8" fill="#55a062"/>
<rect x="259.6" y="393.3" width="2.8" height="2.8" fill="#55a062"/>
<rect x="260.3" y="375.2" width="2.8" height="2.8" fill="#55a062"/>
<rect x="261.0" y="375.9" width="2.8" height="2.8" fill="#55a062"/>
<rect x="261.0" y="392.1" width="2.8" height="2.8" fill="#55a062"/>
<rect x="261.7" y="375.4" width="2.8" height="2.8" fill="#55a062"/>
<rect x="261.7" y="384.6" width="2.8" height="2.8" fill="#55a062"/>
<rect x="262.4" y="374.9" width="2.8" height="2.8" fill="#55a062"/>
<rect x="262.4" y="394.2" width="2.8" height="2.8" fill="#55a062"/>
<rect x="263.1" y="375.0" width="2.8" height="2.8" fill="#55a062"/>
<rect x="263.8" y="376.5" width="2.8" height="2.8" fill="#55a062"/>
<rect x="263.8" y="385.7" width="2.8" height="2.8" fill="#55a062"/>
<rect x="264.5" y="374.7" width="2.8" height="2.8" fill="#55a062"/>
<rect x="264.5" y="394.1" width="2.8" height="2.8" fill="#55a062"/>
<rect x="265.1" y="375.1" width="2.8" height="2.8" fill="#55a062"/>
<rect x="265.1" y="394.2" width="2.8" height="2.8" fill="#55a062"/>
<rect x="265.8" y="375.6" width="2.8" height="2.8" fill="#55a062"/>
<rect x="265.8" y="392.7" width="2.8" height="2.8" fill="#55a062"/>
<rect x="266.5" y="375.9" width="2.8" height="2.8" fill="#55a062"/>
<rect x="266.5" y="386.1" width="2.8" height="2.8" fill="#55a062"/>
<rect x="267.2" y="376.4" width="2.8" height="2.8" fill="#55a062"/>
<rect x="267.9" y="383.8" width="2.8" height="2.8" fill="#55a062"/>
<rect x="268.6" y="377.8" width="2.8" height="2.8" fill="#55a062"/>
<rect x="268.6" y="389.9" width="2.8" height="2.8" fill="#55a062"/>
<rect x="269.3" y="377.4" width="2.8" height="2.8" fill="#55a062"/>
<rect x="270.0" y="376.7" width="2.8" height="2.8" fill="#55a062"/>
<rect x="270.0" y="384.0" width="2.8" height="2.8" fill="#55a062"/>
<rect x="270.0" y="414.7" width="2.8" height="2.8" fill="#55a062"/>
<rect x="270.7" y="376.0" width="2.8" height="2.8" fill="#55a062"/>
<rect x="270.7" y="409.0" width="2.8" height="2.8" fill="#55a062"/>
<rect x="271.4" y="377.1" width="2.8" height="2.8" fill="#55a062"/>
<rect x="271.4" y="407.1" width="2.8" height="2.8" fill="#55a062"/>
<rect x="272.0" y="376.3" width="2.8" height="2.8" fill="#55a062"/>
<rect x="272.7" y="377.8" width="2.8" height="2.8" fill="#55a062"/>
<rect x="272.7" y="391.1" width="2.8" height="2.8" fill="#55a062"/>
<rect x="273.4" y="392.3" width="2.8" height="2.8" fill="#55a062"/>
<rect x="274.1" y="375.1" width="2.8" height="2.8" fill="#55a062"/>
<rect x="274.8" y="376.9" width="2.8" height="2.8" fill="#55a062"/>
<rect x="276.2" y="376.9" width="2.8" height="2.8" fill="#55a062"/>
<rect x="276.9" y="378.6" width="2.8" height="2.8" fill="#55a062"/>
<rect x="276.9" y="390.2" width="2.8" height="2.8" fill="#55a062"/>
<rect x="277.6" y="378.0" width="2.8" height="2.8" fill="#55a062"/>
<rect x="278.2" y="377.9" width="2.8" height="2.8" fill="#55a062"/>
<rect x="278.2" y="386.9" width="2.8" height="2.8" fill="#55a062"/>
<rect x="278.9" y="376.8" width="2.8" height="2.8" fill="#55a062"/>
<rect x="278.9" y="393.6" width="2.8" height="2.8" fill="#55a062"/>
<rect x="279.6" y="377.9" width="2.8" height="2.8" fill="#55a062"/>
<rect x="280.3" y="376.6" width="2.8" height="2.8" fill="#55a062"/>
<rect x="281.0" y="390.0" width="2.8" height="2.8" fill="#55a062"/>
<rect x="281.7" y="375.3" width="2.8" height="2.8" fill="#55a062"/>
<rect x="282.4" y="385.5" width="2.8" height="2.8" fill="#55a062"/>
<rect x="283.1" y="377.2" width="2.8" height="2.8" fill="#55a062"/>
<rect x="283.1" y="388.2" width="2.8" height="2.8" fill="#55a062"/>
<rect x="283.8" y="376.4" width="2.8" height="2.8" fill="#55a062"/>
<rect x="284.5" y="379.0" width="2.8" height="2.8" fill="#55a062"/>
<rect x="284.5" y="393.2" width="2.8" height="2.8" fill="#55a062"/>
<rect x="284.5" y="410.5" width="2.8" height="2.8" fill="#55a062"/>
<rect x="285.2" y="376.6" width="2.8" height="2.8" fill="#55a062"/>
<rect x="285.2" y="385.1" width="2.8" height="2.8" fill="#55a062"/>
<rect x="285.8" y="378.9" width="2.8" height="2.8" fill="#55a062"/>
<rect x="286.5" y="378.5" width="2.8" height="2.8" fill="#55a062"/>
<rect x="286.5" y="390.5" width="2.8" height="2.8" fill="#55a062"/>
<rect x="287.2" y="377.6" width="2.8" height="2.8" fill="#55a062"/>
<rect x="287.9" y="376.6" width="2.8" height="2.8" fill="#55a062"/>
<rect x="287.9" y="388.8" width="2.8" height="2.8" fill="#55a062"/>
<rect x="288.6" y="377.3" width="2.8" height="2.8" fill="#55a062"/>
<rect x="288.6" y="387.4" width="2.8" height="2.8" fill="#55a062"/>
<rect x="289.3" y="375.9" width="2.8" height="2.8" fill="#55a062"/>
<rect x="289.3" y="392.3" width="2.8" height="2.8" fill="#55a062"/>
<rect x="290.0" y="376.1" width="2.8" height="2.8" fill="#55a062"/>
<rect x="290.7" y="375.9" width="2.8" height="2.8" fill="#55a062"/>
<rect x="291.4" y="377.6" width="2.8" height="2.8" fill="#55a062"/>
<rect x="292.1" y="390.8" width="2.8" height="2.8" fill="#55a062"/>
<rect x="292.7" y="377.8" width="2.8" height="2.8" fill="#55a062"/>
<rect x="294.1" y="375.9" width="2.8" height="2.8" fill="#55a062"/>
<rect x="295.5" y="377.7" width="2.8" height="2.8" fill="#55a062"/>
<rect x="296.2" y="380.3" width="2.8" height="2.8" fill="#55a062"/>
<rect x="296.2" y="412.4" width="2.8" height="2.8" fill="#55a062"/>
<rect x="296.9" y="378.2" width="2.8" height="2.8" fill="#55a062"/>
<rect x="296.9" y="385.2" width="2.8" height="2.8" fill="#55a062"/>
<rect x="298.3" y="394.0" width="2.8" height="2.8" fill="#55a062"/>
<rect x="298.3" y="400.2" width="2.8" height="2.8" fill="#55a062"/>
<rect x="298.9" y="382.0" width="2.8" height="2.8" fill="#55a062"/>
<rect x="298.9" y="391.6" width="2.8" height="2.8" fill="#55a062"/>
<rect x="299.6" y="380.7" width="2.8" height="2.8" fill="#55a062"/>
<rect x="299.6" y="387.8" width="2.8" height="2.8" fill="#55a062"/>
<rect x="300.3" y="393.0" width="2.8" height="2.8" fill="#55a062"/>
<rect x="301.0" y="377.9" width="2.8" height="2.8" fill="#55a062"/>
<rect x="301.7" y="377.4" width="2.8" height="2.8" fill="#55a062"/>
<rect x="301.7" y="394.3" width="2.8" height="2.8" fill="#55a062"/>
<rect x="302.4" y="379.6" width="2.8" height="2.8" fill="#55a062"/>
<rect x="303.1" y="379.4" width="2.8" height="2.8" fill="#55a062"/>
<rect x="304.5" y="379.0" width="2.8" height="2.8" fill="#55a062"/>
<rect x="304.5" y="388.4" width="2.8" height="2.8" fill="#55a062"/>
<rect x="305.2" y="387.1" width="2.8" height="2.8" fill="#55a062"/>
<rect x="306.5" y="385.7" width="2.8" height="2.8" fill="#55a062"/>
<rect x="307.2" y="387.5" width="2.8" height="2.8" fill="#55a062"/>
<rect x="307.9" y="379.5" width="2.8" height="2.8" fill="#55a062"/>
<rect x="308.6" y="378.8" width="2.8" height="2.8" fill="#55a062"/>
<rect x="309.3" y="377.9" width="2.8" height="2.8" fill="#55a062"/>
<rect x="309.3" y="385.8" width="2.8" height="2.8" fill="#55a062"/>
<rect x="312.1" y="380.6" width="2.8" height="2.8" fill="#55a062"/>
<rect x="312.1" y="393.8" width="2.8" height="2.8" fill="#55a062"/>
<rect x="313.4" y="379.4" width="2.8" height="2.8" fill="#55a062"/>
<rect x="313.4" y="392.8" width="2.8" height="2.8" fill="#55a062"/>
<rect x="314.1" y="388.0" width="2.8" height="2.8" fill="#55a062"/>
<rect x="314.8" y="378.4" width="2.8" height="2.8" fill="#55a062"/>
<rect x="314.8" y="391.1" width="2.8" height="2.8" fill="#55a062"/>
<rect x="315.5" y="389.2" width="2.8" height="2.8" fill="#55a062"/>
<rect x="316.2" y="379.2" width="2.8" height="2.8" fill="#55a062"/>
<rect x="316.2" y="384.8" width="2.8" height="2.8" fill="#55a062"/>
<rect x="316.2" y="407.2" width="2.8" height="2.8" fill="#55a062"/>
<rect x="316.9" y="378.6" width="2.8" height="2.8" fill="#55a062"/>
<rect x="317.6" y="380.5" width="2.8" height="2.8" fill="#55a062"/>
<rect x="318.3" y="382.5" width="2.8" height="2.8" fill="#55a062"/>
<rect x="318.3" y="394.1" width="2.8" height="2.8" fill="#55a062"/>
<rect x="319.0" y="388.7" width="2.8" height="2.8" fill="#55a062"/>
<rect x="319.6" y="379.4" width="2.8" height="2.8" fill="#55a062"/>
<rect x="320.3" y="379.4" width="2.8" height="2.8" fill="#55a062"/>
<rect x="320.3" y="391.7" width="2.8" height="2.8" fill="#55a062"/>
<rect x="321.0" y="380.6" width="2.8" height="2.8" fill="#55a062"/>
<rect x="321.0" y="393.4" width="2.8" height="2.8" fill="#55a062"/>
<rect x="322.4" y="381.3" width="2.8" height="2.8" fill="#55a062"/>
<rect x="324.5" y="393.5" width="2.8" height="2.8" fill="#55a062"/>
<rect x="325.9" y="379.9" width="2.8" height="2.8" fill="#55a062"/>
<rect x="325.9" y="388.8" width="2.8" height="2.8" fill="#55a062"/>
<rect x="325.9" y="403.1" width="2.8" height="2.8" fill="#55a062"/>
<rect x="328.6" y="379.1" width="2.8" height="2.8" fill="#55a062"/>
<rect x="330.0" y="376.9" width="2.8" height="2.8" fill="#55a062"/>
<rect x="330.0" y="388.0" width="2.8" height="2.8" fill="#55a062"/>
<rect x="330.0" y="399.7" width="2.8" height="2.8" fill="#55a062"/>
<rect x="330.7" y="377.3" width="2.8" height="2.8" fill="#55a062"/>
<rect x="330.7" y="386.4" width="2.8" height="2.8" fill="#55a062"/>
<rect x="332.8" y="390.2" width="2.8" height="2.8" fill="#55a062"/>
<rect x="333.5" y="381.5" width="2.8" height="2.8" fill="#55a062"/>
<rect x="333.5" y="385.5" width="2.8" height="2.8" fill="#55a062"/>
<rect x="334.1" y="394.0" width="2.8" height="2.8" fill="#55a062"/>
<rect x="334.8" y="379.4" width="2.8" height="2.8" fill="#55a062"/>
<rect x="335.5" y="378.2" width="2.8" height="2.8" fill="#55a062"/>
<rect x="335.5" y="391.5" width="2.8" height="2.8" fill="#55a062"/>
<rect x="336.2" y="377.3" width="2.8" height="2.8" fill="#55a062"/>
<rect x="336.2" y="384.1" width="2.8" height="2.8" fill="#55a062"/>
<rect x="336.9" y="400.0" width="2.8" height="2.8" fill="#55a062"/>
<rect x="337.6" y="386.3" width="2.8" height="2.8" fill="#55a062"/>
<rect x="337.6" y="400.1" width="2.8" height="2.8" fill="#55a062"/>
<rect x="338.3" y="379.7" width="2.8" height="2.8" fill="#55a062"/>
<rect x="339.0" y="383.9" width="2.8" height="2.8" fill="#55a062"/>
<rect x="339.0" y="401.3" width="2.8" height="2.8" fill="#55a062"/>
<rect x="339.7" y="395.6" width="2.8" height="2.8" fill="#55a062"/>
<rect x="340.4" y="378.5" width="2.8" height="2.8" fill="#55a062"/>
<rect x="340.4" y="394.0" width="2.8" height="2.8" fill="#55a062"/>
<rect x="341.0" y="378.7" width="2.8" height="2.8" fill="#55a062"/>
<rect x="341.0" y="394.9" width="2.8" height="2.8" fill="#55a062"/>
<rect x="341.7" y="401.6" width="2.8" height="2.8" fill="#55a062"/>
<rect x="342.4" y="387.4" width="2.8" height="2.8" fill="#55a062"/>
<rect x="343.8" y="377.6" width="2.8" height="2.8" fill="#55a062"/>
<rect x="345.2" y="380.1" width="2.8" height="2.8" fill="#55a062"/>
<rect x="345.9" y="387.4" width="2.8" height="2.8" fill="#55a062"/>
<rect x="345.9" y="389.9" width="2.8" height="2.8" fill="#55a062"/>
<rect x="346.6" y="394.3" width="2.8" height="2.8" fill="#55a062"/>
<rect x="346.6" y="397.4" width="2.8" height="2.8" fill="#55a062"/>
<rect x="347.9" y="378.3" width="2.8" height="2.8" fill="#55a062"/>
<rect x="347.9" y="397.5" width="2.8" height="2.8" fill="#55a062"/>
<rect x="348.6" y="380.3" width="2.8" height="2.8" fill="#55a062"/>
<rect x="348.6" y="398.5" width="2.8" height="2.8" fill="#55a062"/>
<rect x="349.3" y="392.4" width="2.8" height="2.8" fill="#55a062"/>
<rect x="350.0" y="396.1" width="2.8" height="2.8" fill="#55a062"/>
<rect x="350.7" y="378.8" width="2.8" height="2.8" fill="#55a062"/>
<rect x="351.4" y="383.1" width="2.8" height="2.8" fill="#55a062"/>
<rect x="351.4" y="399.6" width="2.8" height="2.8" fill="#55a062"/>
<rect x="351.4" y="397.3" width="2.8" height="2.8" fill="#55a062"/>
<rect x="352.1" y="396.6" width="2.8" height="2.8" fill="#55a062"/>
<rect x="352.8" y="389.0" width="2.8" height="2.8" fill="#55a062"/>
<rect x="353.5" y="383.0" width="2.8" height="2.8" fill="#55a062"/>
<rect x="354.1" y="391.2" width="2.8" height="2.8" fill="#55a062"/>
<rect x="354.1" y="397.2" width="2.8" height="2.8" fill="#55a062"/>
<rect x="354.8" y="383.8" width="2.8" height="2.8" fill="#55a062"/>
<rect x="355.5" y="398.4" width="2.8" height="2.8" fill="#55a062"/>
<rect x="356.2" y="380.1" width="2.8" height="2.8" fill="#55a062"/>
<rect x="356.2" y="400.6" width="2.8" height="2.8" fill="#55a062"/>
<rect x="356.9" y="382.6" width="2.8" height="2.8" fill="#55a062"/>
<rect x="356.9" y="391.9" width="2.8" height="2.8" fill="#55a062"/>
<rect x="357.6" y="388.0" width="2.8" height="2.8" fill="#55a062"/>
<rect x="359.0" y="385.6" width="2.8" height="2.8" fill="#55a062"/>
<rect x="359.0" y="386.0" width="2.8" height="2.8" fill="#55a062"/>
<rect x="360.4" y="407.1" width="2.8" height="2.8" fill="#55a062"/>
<rect x="361.1" y="386.9" width="2.8" height="2.8" fill="#55a062"/>
<rect x="361.7" y="395.7" width="2.8" height="2.8" fill="#55a062"/>
<rect x="363.1" y="376.9" width="2.8" height="2.8" fill="#55a062"/>
<rect x="363.8" y="391.0" width="2.8" height="2.8" fill="#55a062"/>
<rect x="364.5" y="394.2" width="2.8" height="2.8" fill="#55a062"/>
<rect x="368.6" y="389.1" width="2.8" height="2.8" fill="#55a062"/>
<rect x="369.3" y="390.3" width="2.8" height="2.8" fill="#55a062"/>
<rect x="369.3" y="392.4" width="2.8" height="2.8" fill="#55a062"/>
<rect x="370.0" y="390.5" width="2.8" height="2.8" fill="#55a062"/>
<rect x="370.0" y="409.2" width="2.8" height="2.8" fill="#55a062"/>
<rect x="370.7" y="386.6" width="2.8" height="2.8" fill="#55a062"/>
<rect x="371.4" y="397.9" width="2.8" height="2.8" fill="#55a062"/>
<rect x="372.1" y="385.7" width="2.8" height="2.8" fill="#55a062"/>
<rect x="372.8" y="388.0" width="2.8" height="2.8" fill="#55a062"/>
<rect x="372.8" y="390.1" width="2.8" height="2.8" fill="#55a062"/>
<rect x="373.5" y="394.4" width="2.8" height="2.8" fill="#55a062"/>
<rect x="374.2" y="384.6" width="2.8" height="2.8" fill="#55a062"/>
<rect x="375.5" y="393.4" width="2.8" height="2.8" fill="#55a062"/>
<rect x="375.5" y="400.8" width="2.8" height="2.8" fill="#55a062"/>
<rect x="376.2" y="380.4" width="2.8" height="2.8" fill="#55a062"/>
<rect x="376.2" y="401.4" width="2.8" height="2.8" fill="#55a062"/>
<rect x="376.9" y="384.3" width="2.8" height="2.8" fill="#55a062"/>
<rect x="376.9" y="393.2" width="2.8" height="2.8" fill="#55a062"/>
<rect x="378.3" y="387.0" width="2.8" height="2.8" fill="#55a062"/>
<rect x="378.3" y="399.5" width="2.8" height="2.8" fill="#55a062"/>
<rect x="379.7" y="397.9" width="2.8" height="2.8" fill="#55a062"/>
<rect x="379.7" y="412.8" width="2.8" height="2.8" fill="#55a062"/>
<rect x="380.4" y="401.3" width="2.8" height="2.8" fill="#55a062"/>
<rect x="381.1" y="393.3" width="2.8" height="2.8" fill="#55a062"/>
<rect x="382.4" y="388.0" width="2.8" height="2.8" fill="#55a062"/>
<rect x="383.1" y="398.8" width="2.8" height="2.8" fill="#55a062"/>
<rect x="383.8" y="388.1" width="2.8" height="2.8" fill="#55a062"/>
<rect x="384.5" y="384.5" width="2.8" height="2.8" fill="#55a062"/>
<rect x="384.5" y="393.1" width="2.8" height="2.8" fill="#55a062"/>
<rect x="385.2" y="386.6" width="2.8" height="2.8" fill="#55a062"/>
<rect x="385.2" y="403.9" width="2.8" height="2.8" fill="#55a062"/>
<rect x="385.9" y="392.5" width="2.8" height="2.8" fill="#55a062"/>
<rect x="385.9" y="403.5" width="2.8" height="2.8" fill="#55a062"/>
<rect x="386.6" y="394.6" width="2.8" height="2.8" fill="#55a062"/>
<rect x="387.3" y="383.5" width="2.8" height="2.8" fill="#55a062"/>
<rect x="388.0" y="382.6" width="2.8" height="2.8" fill="#55a062"/>
<rect x="388.0" y="394.2" width="2.8" height="2.8" fill="#55a062"/>
<rect x="388.6" y="382.9" width="2.8" height="2.8" fill="#55a062"/>
<rect x="388.6" y="396.3" width="2.8" height="2.8" fill="#55a062"/>
<rect x="389.3" y="384.7" width="2.8" height="2.8" fill="#55a062"/>
<rect x="390.0" y="398.8" width="2.8" height="2.8" fill="#55a062"/>
<rect x="390.0" y="398.6" width="2.8" height="2.8" fill="#55a062"/>
<rect x="248.5" y="229" width="144.70" height="195.00" fill="none" stroke="#444" stroke-width="1.2"/>
<rect x="424.50" y="227.30" width="87.20" height="83.80" fill="#808080"/>
<rect x="430.60" y="233.30" width="13.22" height="12.60" fill="#4738b4"/>
<rect x="443.12" y="233.30" width="13.22" height="12.60" fill="#4738b4"/>
<rect x="455.64" y="233.30" width="13.22" height="12.60" fill="#5a4fae"/>
<rect x="468.16" y="233.30" width="13.22" height="12.60" fill="#4738b4"/>
<rect x="480.68" y="233.30" width="13.22" height="12.60" fill="#4738b4"/>
<rect x="493.20" y="233.30" width="12.52" height="12.60" fill="#4a3cb2"/>
<rect x="430.60" y="245.20" width="13.22" height="11.90" fill="#4738b4"/>
<rect x="443.12" y="245.20" width="13.22" height="11.90" fill="#4738b4"/>
<rect x="455.64" y="245.20" width="13.22" height="12.60" fill="#4738b4"/>
<rect x="468.16" y="245.20" width="13.22" height="12.60" fill="#4738b4"/>
<rect x="480.68" y="245.20" width="13.22" height="11.90" fill="#4738b4"/>
<rect x="493.20" y="245.20" width="12.52" height="11.90" fill="#4738b4"/>
<rect x="455.64" y="257.10" width="13.22" height="12.60" fill="#4738b4"/>
<rect x="468.16" y="257.10" width="12.52" height="12.60" fill="#4738b4"/>
<rect x="455.64" y="269.00" width="13.22" height="12.60" fill="#4738b4"/>
<rect x="468.16" y="269.00" width="12.52" height="12.60" fill="#4738b4"/>
<rect x="455.64" y="280.90" width="13.22" height="12.60" fill="#4738b4"/>
<rect x="468.16" y="280.90" width="12.52" height="12.60" fill="#4738b4"/>
<rect x="455.64" y="292.80" width="13.22" height="12.60" fill="#4738b4"/>
<rect x="468.16" y="292.80" width="12.52" height="12.60" fill="#4738b4"/>
<rect x="455.64" y="304.70" width="13.22" height="6.40" fill="#5044b0"/>
<rect x="468.16" y="304.70" width="12.52" height="6.40" fill="#5247ae"/>
<rect x="518.90" y="227.30" width="87.10" height="83.80" fill="#808080"/>
<rect x="537.40" y="233.30" width="13.00" height="12.70" fill="#4738b4"/>
<rect x="549.70" y="233.30" width="13.00" height="12.00" fill="#4738b4"/>
<rect x="562.00" y="233.30" width="12.30" height="12.00" fill="#5a50ac"/>
<rect x="537.40" y="245.30" width="12.30" height="12.70" fill="#4738b4"/>
<rect x="574.30" y="245.30" width="12.30" height="12.70" fill="#4738b4"/>
<rect x="537.40" y="257.30" width="12.30" height="12.70" fill="#5549b0"/>
<rect x="574.30" y="257.30" width="12.30" height="12.00" fill="#4e42b2"/>
<rect x="537.40" y="269.30" width="13.00" height="12.70" fill="#4738b4"/>
<rect x="549.70" y="269.30" width="13.00" height="12.00" fill="#4738b4"/>
<rect x="562.00" y="269.30" width="12.30" height="12.00" fill="#4738b4"/>
<rect x="537.40" y="281.30" width="12.30" height="12.70" fill="#6058ac"/>
<rect x="574.30" y="281.30" width="12.30" height="12.70" fill="#4738b4"/>
<rect x="537.40" y="293.30" width="12.30" height="12.70" fill="#5247b0"/>
<rect x="574.30" y="293.30" width="12.30" height="12.70" fill="#4738b4"/>
<rect x="537.40" y="305.30" width="13.00" height="5.80" fill="#4738b4"/>
<rect x="549.70" y="305.30" width="13.00" height="5.80" fill="#4738b4"/>
<rect x="562.00" y="305.30" width="13.00" height="5.80" fill="#4738b4"/>
<rect x="574.30" y="305.30" width="12.30" height="5.80" fill="#4738b4"/>
<rect x="424.90" y="318.90" width="87.20" height="83.00" fill="#808080"/>
<rect x="446.70" y="329.40" width="11.60" height="11.15" fill="#5249b0"/>
<rect x="457.60" y="329.40" width="11.50" height="10.45" fill="#5249b0"/>
<rect x="468.40" y="329.40" width="10.90" height="10.45" fill="#5249b0"/>
<rect x="446.70" y="339.85" width="10.90" height="11.15" fill="#5247b2"/>
<rect x="479.30" y="339.85" width="10.90" height="10.45" fill="#5c52ae"/>
<rect x="446.70" y="350.30" width="10.90" height="11.15" fill="#5448b1"/>
<rect x="446.70" y="360.75" width="11.60" height="10.45" fill="#4b3eb6"/>
<rect x="457.60" y="360.75" width="11.50" height="10.45" fill="#4b3eb6"/>
<rect x="468.40" y="360.75" width="10.90" height="11.15" fill="#4b3eb6"/>
<rect x="468.40" y="371.20" width="11.60" height="10.45" fill="#4a3cb4"/>
<rect x="479.30" y="371.20" width="10.90" height="11.15" fill="#4a3cb4"/>
<rect x="446.70" y="381.65" width="10.90" height="11.15" fill="#5a50b0"/>
<rect x="479.30" y="381.65" width="10.90" height="10.45" fill="#4e42b2"/>
<rect x="446.70" y="392.10" width="11.60" height="9.80" fill="#5549b0"/>
<rect x="457.60" y="392.10" width="11.50" height="9.80" fill="#5549b0"/>
<rect x="468.40" y="392.10" width="10.90" height="9.80" fill="#5549b0"/>
<rect x="518.80" y="318.90" width="87.30" height="83.00" fill="#808080"/>
<rect x="551.40" y="329.10" width="11.50" height="11.17" fill="#5a50ae"/>
<rect x="562.20" y="329.10" width="10.90" height="11.17" fill="#4a3cb4"/>
<rect x="551.40" y="339.57" width="11.50" height="11.17" fill="#4a3cb4"/>
<rect x="562.20" y="339.57" width="10.90" height="11.17" fill="#5046b0"/>
<rect x="551.40" y="350.04" width="11.50" height="11.17" fill="#4a3cb4"/>
<rect x="562.20" y="350.04" width="10.90" height="11.17" fill="#6058aa"/>
<rect x="551.40" y="360.51" width="11.50" height="11.17" fill="#4a3cb4"/>
<rect x="562.20" y="360.51" width="10.90" height="11.17" fill="#6560a8"/>
<rect x="551.40" y="370.98" width="11.50" height="11.17" fill="#4a3cb4"/>
<rect x="562.20" y="370.98" width="10.90" height="11.17" fill="#5c52ac"/>
<rect x="551.40" y="381.45" width="11.50" height="11.17" fill="#4f44b2"/>
<rect x="562.20" y="381.45" width="10.90" height="11.17" fill="#5046b0"/>
<rect x="551.40" y="391.92" width="11.50" height="9.98" fill="#4a3cb4"/>
<rect x="562.20" y="391.92" width="10.90" height="9.98" fill="#4a3cb4"/>
<rect x="424.80" y="404.80" width="133.00" height="19.70" fill="url(#fcb)" stroke="#444" stroke-width="0.8"/>
<text x="427.70" y="439.00" font-size="12.5" text-anchor="middle" fill="#111" stroke="#111" stroke-width="0.22">10</text>
<text x="486.70" y="439.00" font-size="12.5" text-anchor="middle" fill="#111" stroke="#111" stroke-width="0.22">5</text>
<text x="540.00" y="439.00" font-size="12.5" text-anchor="middle" fill="#111" stroke="#111" stroke-width="0.22">10<tspan font-size="9" dy="-4.5">-4</tspan></text>
<text x="485.20" y="455.30" font-size="13.3" text-anchor="middle" fill="#111" stroke="#111" stroke-width="0.22">Current (nA)</text>
</svg></body></html>
